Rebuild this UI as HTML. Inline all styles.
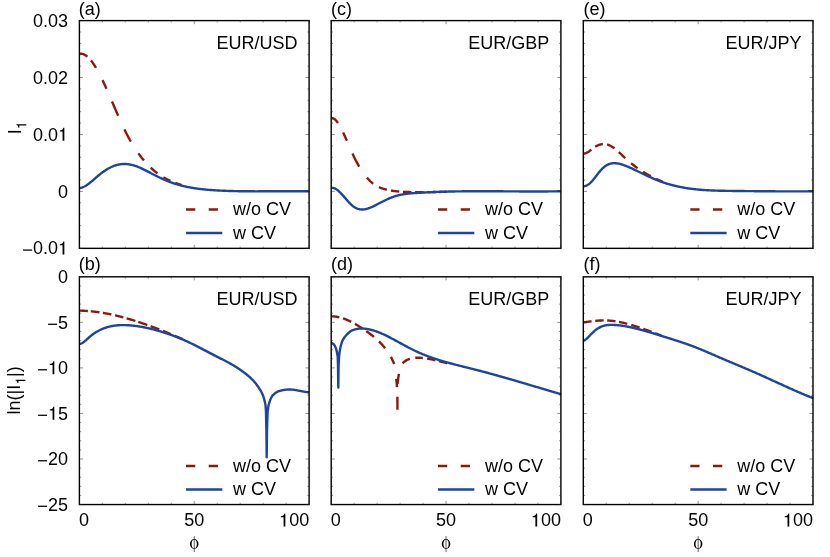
<!DOCTYPE html>
<html><head><meta charset="utf-8"><title>chart</title>
<style>
html,body{margin:0;padding:0;background:#fff;}
svg{display:block;will-change:transform;}
text{font-family:"Liberation Sans",sans-serif;fill:#000;}
</style></head>
<body>
<svg width="830" height="557" viewBox="0 0 830 557">
<rect width="830" height="557" fill="#fff"/>
<g id="curves">
<polyline points="79.40,53.70 79.80,53.66 80.20,53.63 80.60,53.63 81.00,53.65 81.40,53.69 81.80,53.75 82.20,53.84 82.60,53.94 83.00,54.06 83.40,54.21 83.80,54.37 84.20,54.56 84.60,54.76 85.00,54.99 85.40,55.23 85.80,55.49 86.20,55.77 86.60,56.07 87.00,56.39 87.40,56.72" fill="none" stroke="#8c1a0c" stroke-width="2.4" stroke-linecap="butt" stroke-linejoin="round"/>
<polyline points="90.95,60.44 91.37,60.96 91.79,61.50 92.21,62.06 92.63,62.64 93.05,63.23 93.47,63.84 93.90,64.46 94.32,65.10 94.74,65.75 95.16,66.42 95.58,67.10 96.00,67.80" fill="none" stroke="#8c1a0c" stroke-width="2.4" stroke-linecap="butt" stroke-linejoin="round"/>
<polyline points="102.50,80.11 102.90,80.95 103.30,81.80 103.70,82.65 104.10,83.51 104.50,84.37 104.90,85.25 105.30,86.12 105.70,87.01 106.10,87.90 106.50,88.79" fill="none" stroke="#8c1a0c" stroke-width="2.4" stroke-linecap="butt" stroke-linejoin="round"/>
<polyline points="112.00,101.46 112.41,102.42 112.82,103.38 113.23,104.34 113.64,105.30 114.05,106.26 114.46,107.22 114.87,108.18 115.28,109.14 115.69,110.09 116.10,111.05 116.51,112.00 116.92,112.95 117.33,113.89 117.74,114.84 118.15,115.77" fill="none" stroke="#8c1a0c" stroke-width="2.4" stroke-linecap="butt" stroke-linejoin="round"/>
<polyline points="124.40,129.41 124.81,130.24 125.21,131.06 125.62,131.87 126.03,132.68 126.43,133.47 126.84,134.26 127.24,135.04 127.65,135.81 128.06,136.57 128.46,137.32 128.87,138.07 129.28,138.81 129.68,139.54 130.09,140.26 130.49,140.97 130.90,141.68" fill="none" stroke="#8c1a0c" stroke-width="2.4" stroke-linecap="butt" stroke-linejoin="round"/>
<polyline points="138.40,153.37 138.83,153.97 139.26,154.56 139.69,155.14 140.12,155.72 140.55,156.28 140.98,156.84 141.42,157.40 141.85,157.94 142.28,158.48 142.71,159.01 143.14,159.54 143.57,160.05 144.00,160.56" fill="none" stroke="#8c1a0c" stroke-width="2.4" stroke-linecap="butt" stroke-linejoin="round"/>
<polyline points="150.80,167.74 151.22,168.13 151.64,168.51 152.06,168.89 152.48,169.26 152.89,169.63 153.31,170.00 153.73,170.35 154.15,170.71 154.57,171.05 154.99,171.40 155.41,171.73 155.82,172.07 156.24,172.39 156.66,172.71 157.08,173.03 157.50,173.34" fill="none" stroke="#8c1a0c" stroke-width="2.4" stroke-linecap="butt" stroke-linejoin="round"/>
<polyline points="163.40,177.26 163.81,177.51 164.22,177.74 164.64,177.98 165.05,178.21 165.46,178.44 165.87,178.66 166.28,178.88 166.69,179.10 167.11,179.31 167.52,179.52 167.93,179.72 168.34,179.93 168.75,180.13 169.16,180.32 169.58,180.52 169.99,180.71 170.40,180.89" fill="none" stroke="#8c1a0c" stroke-width="2.4" stroke-linecap="butt" stroke-linejoin="round"/>
<polyline points="175.30,182.91 175.73,183.06 176.15,183.22 176.58,183.37 177.01,183.52 177.43,183.67 177.86,183.82 178.29,183.96 178.71,184.10 179.14,184.24 179.57,184.38 179.99,184.52 180.42,184.65 180.85,184.78 181.27,184.91 181.70,185.04" fill="none" stroke="#8c1a0c" stroke-width="2.4" stroke-linecap="butt" stroke-linejoin="round"/>
<polyline points="79.40,188.09 79.90,188.04 80.40,187.96 80.90,187.86 81.40,187.73 81.90,187.58 82.40,187.41 82.90,187.22 83.40,187.00 83.90,186.77 84.40,186.52 84.90,186.25 85.41,185.97 85.91,185.67 86.41,185.35 86.91,185.02 87.41,184.68 87.91,184.33 88.41,183.96 88.91,183.58 89.41,183.20 89.91,182.80 90.41,182.40 90.91,181.99 91.41,181.57 91.91,181.15 92.41,180.72 92.91,180.29 93.41,179.86 93.91,179.42 94.41,178.98 94.91,178.54 95.41,178.11 95.91,177.67 96.41,177.24 96.92,176.81 97.42,176.38 97.92,175.96 98.42,175.54 98.92,175.13 99.42,174.73 99.92,174.33 100.42,173.93 100.92,173.54 101.42,173.16 101.92,172.79 102.42,172.42 102.92,172.05 103.42,171.70 103.92,171.35 104.42,171.00 104.92,170.67 105.42,170.34 105.92,170.01 106.42,169.70 106.92,169.39 107.42,169.09 107.92,168.80 108.43,168.51 108.93,168.23 109.43,167.97 109.93,167.70 110.43,167.45 110.93,167.21 111.43,166.97 111.93,166.74 112.43,166.52 112.93,166.31 113.43,166.11 113.93,165.92 114.43,165.73 114.93,165.56 115.43,165.39 115.93,165.24 116.43,165.09 116.93,164.95 117.43,164.83 117.93,164.71 118.43,164.60 118.93,164.50 119.43,164.41 119.94,164.33 120.44,164.26 120.94,164.19 121.44,164.14 121.94,164.09 122.44,164.06 122.94,164.03 123.44,164.01 123.94,164.00 124.44,163.99 124.94,164.00 125.44,164.01 125.94,164.04 126.44,164.07 126.94,164.11 127.44,164.15 127.94,164.21 128.44,164.27 128.94,164.34 129.44,164.42 129.94,164.51 130.44,164.60 130.94,164.70 131.45,164.81 131.95,164.93 132.45,165.05 132.95,165.18 133.45,165.32 133.95,165.47 134.45,165.62 134.95,165.78 135.45,165.95 135.95,166.12 136.45,166.30 136.95,166.49 137.45,166.68 137.95,166.88 138.45,167.08 138.95,167.28 139.45,167.50 139.95,167.71 140.45,167.93 140.95,168.16 141.45,168.39 141.95,168.62 142.45,168.86 142.96,169.10 143.46,169.34 143.96,169.59 144.46,169.83 144.96,170.08 145.46,170.34 145.96,170.59 146.46,170.85 146.96,171.11 147.46,171.37 147.96,171.63 148.46,171.89 148.96,172.15 149.46,172.41 149.96,172.67 150.46,172.93 150.96,173.20 151.46,173.46 151.96,173.72 152.46,173.98 152.96,174.23 153.46,174.49 153.96,174.75 154.47,175.00 154.97,175.26 155.47,175.51 155.97,175.76 156.47,176.01 156.97,176.26 157.47,176.51 157.97,176.75 158.47,177.00 158.97,177.24 159.47,177.48 159.97,177.72 160.47,177.95 160.97,178.19 161.47,178.42 161.97,178.65 162.47,178.88 162.97,179.11 163.47,179.33 163.97,179.55 164.47,179.77 164.97,179.99 165.47,180.20 165.98,180.42 166.48,180.63 166.98,180.83 167.48,181.04 167.98,181.24 168.48,181.44 168.98,181.63 169.48,181.82 169.98,182.01 170.48,182.20 170.98,182.38 171.48,182.56 171.98,182.74 172.48,182.92 172.98,183.09 173.48,183.26 173.98,183.42 174.48,183.58 174.98,183.74 175.48,183.90 175.98,184.06 176.48,184.21 176.98,184.36 177.49,184.51 177.99,184.65 178.49,184.79 178.99,184.93 179.49,185.07 179.99,185.20 180.49,185.34 180.99,185.47 181.49,185.59 181.99,185.72 182.49,185.84 182.99,185.96 183.49,186.08 183.99,186.20 184.49,186.31 184.99,186.42 185.49,186.53 185.99,186.64 186.49,186.75 186.99,186.85 187.49,186.96 187.99,187.06 188.49,187.16 189.00,187.25 189.50,187.35 190.00,187.44 190.50,187.53 191.00,187.62 191.50,187.71 192.00,187.80 192.50,187.88 193.00,187.96 193.50,188.05 194.00,188.12 194.50,188.20 195.00,188.28 195.50,188.35 196.00,188.43 196.50,188.50 197.00,188.57 197.50,188.64 198.00,188.71 198.50,188.77 199.00,188.84 199.50,188.90 200.01,188.96 200.51,189.02 201.01,189.08 201.51,189.14 202.01,189.20 202.51,189.25 203.01,189.31 203.51,189.36 204.01,189.41 204.51,189.47 205.01,189.51 205.51,189.56 206.01,189.61 206.51,189.66 207.01,189.70 207.51,189.75 208.01,189.79 208.51,189.83 209.01,189.87 209.51,189.91 210.01,189.95 210.51,189.99 211.01,190.03 211.52,190.07 212.02,190.10 212.52,190.14 213.02,190.17 213.52,190.20 214.02,190.24 214.52,190.27 215.02,190.30 215.52,190.33 216.02,190.36 216.52,190.39 217.02,190.42 217.52,190.45 218.02,190.47 218.52,190.50 219.02,190.53 219.52,190.55 220.02,190.58 220.52,190.60 221.02,190.63 221.52,190.65 222.02,190.67 222.52,190.70 223.03,190.72 223.53,190.74 224.03,190.76 224.53,190.78 225.03,190.80 225.53,190.82 226.03,190.84 226.53,190.86 227.03,190.88 227.53,190.90 228.03,190.91 228.53,190.93 229.03,190.95 229.53,190.96 230.03,190.98 230.53,190.99 231.03,191.01 231.53,191.02 232.03,191.04 232.53,191.05 233.03,191.06 233.53,191.08 234.03,191.09 234.54,191.10 235.04,191.11 235.54,191.12 236.04,191.14 236.54,191.15 237.04,191.16 237.54,191.17 238.04,191.18 238.54,191.18 239.04,191.19 239.54,191.20 240.04,191.21 240.54,191.22 241.04,191.23 241.54,191.23 242.04,191.24 242.54,191.25 243.04,191.25 243.54,191.26 244.04,191.26 244.54,191.27 245.04,191.27 245.54,191.28 246.05,191.28 246.55,191.29 247.05,191.29 247.55,191.30 248.05,191.30 248.55,191.30 249.05,191.31 249.55,191.31 250.05,191.31 250.55,191.31 251.05,191.32 251.55,191.32 252.05,191.32 252.55,191.32 253.05,191.32 253.55,191.32 254.05,191.32 254.55,191.32 255.05,191.33 255.55,191.33 256.05,191.33 256.55,191.33 257.05,191.33 257.56,191.33 258.06,191.32 258.56,191.32 259.06,191.32 259.56,191.32 260.06,191.32 260.56,191.32 261.06,191.32 261.56,191.32 262.06,191.32 262.56,191.31 263.06,191.31 263.56,191.31 264.06,191.31 264.56,191.31 265.06,191.30 265.56,191.30 266.06,191.30 266.56,191.30 267.06,191.29 267.56,191.29 268.06,191.29 268.56,191.29 269.07,191.28 269.57,191.28 270.07,191.28 270.57,191.28 271.07,191.27 271.57,191.27 272.07,191.27 272.57,191.26 273.07,191.26 273.57,191.26 274.07,191.26 274.57,191.25 275.07,191.25 275.57,191.25 276.07,191.24 276.57,191.24 277.07,191.24 277.57,191.24 278.07,191.23 278.57,191.23 279.07,191.23 279.57,191.23 280.07,191.22 280.58,191.22 281.08,191.22 281.58,191.22 282.08,191.21 282.58,191.21 283.08,191.21 283.58,191.21 284.08,191.21 284.58,191.20 285.08,191.20 285.58,191.20 286.08,191.20 286.58,191.20 287.08,191.20 287.58,191.20 288.08,191.20 288.58,191.19 289.08,191.19 289.58,191.19 290.08,191.19 290.58,191.19 291.08,191.19 291.58,191.19 292.09,191.19 292.59,191.19 293.09,191.20 293.59,191.20 294.09,191.20 294.59,191.20 295.09,191.20 295.59,191.20 296.09,191.20 296.59,191.21 297.09,191.21 297.59,191.21 298.09,191.21 298.59,191.22 299.09,191.22 299.59,191.22 300.09,191.23 300.59,191.23 301.09,191.24 301.59,191.24 302.09,191.25 302.59,191.25 303.09,191.26 303.60,191.26 304.10,191.27 304.60,191.28 305.10,191.28 305.60,191.29 306.10,191.30 306.60,191.30 307.10,191.31 307.60,191.32 308.10,191.33 308.60,191.34 309.10,191.35" fill="none" stroke="#1e459d" stroke-width="2.4" stroke-linecap="butt" stroke-linejoin="round"/>
<polyline points="79.40,310.62 79.80,310.62 80.21,310.63 80.61,310.64 81.02,310.65 81.42,310.67 81.83,310.68 82.23,310.70 82.64,310.71 83.04,310.73 83.45,310.75 83.85,310.77 84.26,310.79 84.66,310.81 85.07,310.83 85.47,310.86 85.88,310.88 86.28,310.91 86.69,310.94 87.09,310.96 87.50,310.99 87.90,311.02" fill="none" stroke="#8c1a0c" stroke-width="2.4" stroke-linecap="butt" stroke-linejoin="round"/>
<polyline points="90.80,311.28 91.21,311.32 91.63,311.36 92.04,311.40 92.46,311.44 92.87,311.49 93.29,311.53 93.70,311.58 94.11,311.63 94.53,311.68 94.94,311.73 95.36,311.78 95.77,311.83 96.19,311.88 96.60,311.94 97.01,311.99 97.43,312.05 97.84,312.11 98.26,312.16 98.67,312.22 99.09,312.28 99.50,312.34" fill="none" stroke="#8c1a0c" stroke-width="2.4" stroke-linecap="butt" stroke-linejoin="round"/>
<polyline points="102.90,312.89 103.30,312.95 103.71,313.02 104.11,313.09 104.52,313.17 104.92,313.24 105.33,313.31 105.73,313.39 106.14,313.46 106.54,313.54 106.95,313.61 107.35,313.69 107.76,313.77 108.16,313.85 108.57,313.93 108.97,314.01 109.38,314.09 109.78,314.18 110.19,314.26 110.59,314.34 111.00,314.43 111.40,314.52" fill="none" stroke="#8c1a0c" stroke-width="2.4" stroke-linecap="butt" stroke-linejoin="round"/>
<polyline points="115.05,315.33 115.47,315.43 115.88,315.53 116.30,315.63 116.72,315.73 117.14,315.83 117.56,315.93 117.97,316.03 118.39,316.13 118.81,316.24 119.22,316.34 119.64,316.45 120.06,316.55 120.48,316.66 120.90,316.77 121.31,316.88 121.73,316.99 122.15,317.10 122.56,317.21 122.98,317.32 123.40,317.43" fill="none" stroke="#8c1a0c" stroke-width="2.4" stroke-linecap="butt" stroke-linejoin="round"/>
<polyline points="126.60,318.32 127.00,318.43 127.40,318.55 127.80,318.66 128.20,318.78 128.60,318.90 129.00,319.01 129.40,319.13 129.80,319.25 130.20,319.37 130.60,319.49 131.00,319.61 131.40,319.73 131.80,319.85 132.20,319.97 132.60,320.09 133.00,320.22 133.40,320.34 133.80,320.47 134.20,320.59 134.60,320.72 135.00,320.84 135.40,320.97" fill="none" stroke="#8c1a0c" stroke-width="2.4" stroke-linecap="butt" stroke-linejoin="round"/>
<polyline points="138.30,321.90 138.71,322.04 139.12,322.17 139.53,322.31 139.95,322.45 140.36,322.59 140.77,322.72 141.18,322.86 141.59,323.00 142.00,323.14 142.41,323.28 142.82,323.42 143.24,323.56 143.65,323.70 144.06,323.85 144.47,323.99 144.88,324.13 145.29,324.28 145.70,324.42 146.12,324.57 146.53,324.71 146.94,324.86 147.35,325.00" fill="none" stroke="#8c1a0c" stroke-width="2.4" stroke-linecap="butt" stroke-linejoin="round"/>
<polyline points="150.60,326.18 151.01,326.33 151.43,326.49 151.84,326.64 152.26,326.79 152.67,326.95 153.09,327.10 153.50,327.26 153.91,327.41 154.33,327.57 154.74,327.72 155.16,327.88 155.57,328.04 155.99,328.20 156.40,328.35 156.81,328.51 157.23,328.67 157.64,328.83 158.06,328.99 158.47,329.15 158.89,329.31 159.30,329.48" fill="none" stroke="#8c1a0c" stroke-width="2.4" stroke-linecap="butt" stroke-linejoin="round"/>
<polyline points="162.90,330.90 163.32,331.06 163.74,331.23 164.16,331.40 164.57,331.57 164.99,331.73 165.41,331.90 165.83,332.07 166.25,332.24 166.67,332.41 167.08,332.58 167.50,332.75 167.92,332.93 168.34,333.10 168.76,333.27 169.18,333.44 169.59,333.61 170.01,333.79 170.43,333.96 170.85,334.13" fill="none" stroke="#8c1a0c" stroke-width="2.4" stroke-linecap="butt" stroke-linejoin="round"/>
<polyline points="174.80,335.79 175.21,335.96 175.61,336.14 176.02,336.31 176.42,336.48 176.83,336.65 177.23,336.83 177.64,337.00 178.04,337.17 178.45,337.35 178.85,337.52 179.26,337.70 179.66,337.87 180.07,338.04 180.47,338.22 180.88,338.40 181.28,338.57 181.69,338.75 182.09,338.92 182.50,339.10" fill="none" stroke="#8c1a0c" stroke-width="2.4" stroke-linecap="butt" stroke-linejoin="round"/>
<polyline points="79.40,344.01 79.88,343.94 80.36,343.83 80.84,343.68 81.32,343.49 81.80,343.26 82.28,343.00 82.77,342.71 83.25,342.39 83.73,342.05 84.21,341.69 84.69,341.30 85.17,340.90 85.65,340.49 86.13,340.07 86.61,339.63 87.09,339.19 87.57,338.75 88.05,338.31 88.53,337.87 89.01,337.44 89.50,337.01 89.98,336.59 90.46,336.19 90.94,335.79 91.42,335.41 91.90,335.03 92.38,334.67 92.86,334.31 93.34,333.96 93.82,333.63 94.30,333.30 94.78,332.98 95.26,332.67 95.75,332.37 96.23,332.07 96.71,331.79 97.19,331.51 97.67,331.24 98.15,330.97 98.63,330.72 99.11,330.47 99.59,330.23 100.07,329.99 100.55,329.76 101.03,329.54 101.51,329.32 101.99,329.11 102.48,328.91 102.96,328.71 103.44,328.52 103.92,328.34 104.40,328.16 104.88,327.99 105.36,327.82 105.84,327.66 106.32,327.50 106.80,327.35 107.28,327.20 107.76,327.07 108.24,326.93 108.73,326.80 109.21,326.68 109.69,326.56 110.17,326.45 110.65,326.34 111.13,326.24 111.61,326.14 112.09,326.05 112.57,325.96 113.05,325.87 113.53,325.79 114.01,325.72 114.49,325.65 114.97,325.58 115.46,325.52 115.94,325.47 116.42,325.41 116.90,325.36 117.38,325.32 117.86,325.28 118.34,325.24 118.82,325.21 119.30,325.18 119.78,325.16 120.26,325.13 120.74,325.12 121.22,325.10 121.71,325.09 122.19,325.08 122.67,325.08 123.15,325.08 123.63,325.08 124.11,325.09 124.59,325.09 125.07,325.11 125.55,325.12 126.03,325.14 126.51,325.16 126.99,325.18 127.47,325.21 127.95,325.23 128.44,325.26 128.92,325.30 129.40,325.33 129.88,325.37 130.36,325.41 130.84,325.45 131.32,325.50 131.80,325.54 132.28,325.59 132.76,325.64 133.24,325.69 133.72,325.75 134.20,325.80 134.68,325.86 135.17,325.92 135.65,325.98 136.13,326.04 136.61,326.11 137.09,326.17 137.57,326.24 138.05,326.31 138.53,326.39 139.01,326.46 139.49,326.53 139.97,326.61 140.45,326.69 140.93,326.77 141.42,326.86 141.90,326.94 142.38,327.03 142.86,327.11 143.34,327.20 143.82,327.29 144.30,327.39 144.78,327.48 145.26,327.58 145.74,327.68 146.22,327.78 146.70,327.88 147.18,327.98 147.66,328.08 148.15,328.19 148.63,328.30 149.11,328.41 149.59,328.52 150.07,328.63 150.55,328.74 151.03,328.86 151.51,328.98 151.99,329.09 152.47,329.21 152.95,329.34 153.43,329.46 153.91,329.58 154.40,329.71 154.88,329.84 155.36,329.96 155.84,330.09 156.32,330.23 156.80,330.36 157.28,330.49 157.76,330.63 158.24,330.77 158.72,330.90 159.20,331.04 159.68,331.19 160.16,331.33 160.64,331.47 161.13,331.62 161.61,331.76 162.09,331.91 162.57,332.06 163.05,332.21 163.53,332.36 164.01,332.52 164.49,332.67 164.97,332.83 165.45,332.98 165.93,333.14 166.41,333.30 166.89,333.46 167.38,333.62 167.86,333.78 168.34,333.95 168.82,334.11 169.30,334.28 169.78,334.45 170.26,334.62 170.74,334.79 171.22,334.96 171.70,335.13 172.18,335.31 172.66,335.48 173.14,335.66 173.62,335.84 174.11,336.02 174.59,336.20 175.07,336.38 175.55,336.57 176.03,336.75 176.51,336.94 176.99,337.13 177.47,337.32 177.95,337.51 178.43,337.70 178.91,337.90 179.39,338.09 179.87,338.29 180.36,338.49 180.84,338.69 181.32,338.89 181.80,339.10 182.28,339.30 182.76,339.51 183.24,339.72 183.72,339.93 184.20,340.14 184.68,340.35 185.16,340.57 185.64,340.78 186.12,341.00 186.60,341.22 187.09,341.44 187.57,341.66 188.05,341.88 188.53,342.11 189.01,342.33 189.49,342.56 189.97,342.79 190.45,343.02 190.93,343.25 191.41,343.48 191.89,343.71 192.37,343.94 192.85,344.18 193.34,344.42 193.82,344.65 194.30,344.89 194.78,345.13 195.26,345.37 195.74,345.61 196.22,345.85 196.70,346.10 197.18,346.34 197.66,346.59 198.14,346.83 198.62,347.08 199.10,347.33 199.58,347.58 200.07,347.83 200.55,348.08 201.03,348.33 201.51,348.58 201.99,348.83 202.47,349.08 202.95,349.33 203.43,349.58 203.91,349.84 204.39,350.09 204.87,350.34 205.35,350.60 205.83,350.85 206.32,351.11 206.80,351.36 207.28,351.61 207.76,351.87 208.24,352.12 208.72,352.38 209.20,352.63 209.68,352.88 210.16,353.14 210.64,353.39 211.12,353.64 211.60,353.89 212.08,354.15 212.56,354.40 213.05,354.65 213.53,354.90 214.01,355.15 214.49,355.40 214.97,355.65 215.45,355.89 215.93,356.14 216.41,356.39 216.89,356.63 217.37,356.88 217.85,357.12 218.33,357.36 218.81,357.61 219.29,357.85 219.78,358.09 220.26,358.33 220.74,358.57 221.22,358.81 221.70,359.05 222.18,359.30 222.66,359.54 223.14,359.78 223.62,360.03 224.10,360.27 224.58,360.52 225.06,360.76 225.54,361.01 226.03,361.26 226.51,361.51 226.99,361.77 227.47,362.02 227.95,362.28 228.43,362.54 228.91,362.80 229.39,363.07 229.87,363.34 230.35,363.61 230.83,363.88 231.31,364.15 231.79,364.43 232.27,364.71 232.76,364.99 233.24,365.28 233.72,365.57 234.20,365.86 234.68,366.15 235.16,366.45 235.64,366.75 236.12,367.05 236.60,367.36 237.08,367.67 237.56,367.98 238.04,368.30 238.52,368.61 239.01,368.94 239.49,369.26 239.97,369.59 240.45,369.92 240.93,370.26 241.41,370.59 241.89,370.94 242.37,371.28 242.85,371.63 243.33,371.98 243.81,372.34 244.29,372.70 244.77,373.06 245.25,373.43 245.74,373.80 246.22,374.18 246.70,374.56 247.18,374.95 247.66,375.34 248.14,375.74 248.62,376.15 249.10,376.56 249.58,376.99 250.06,377.42 250.54,377.87 251.02,378.32 251.50,378.79 251.99,379.27 252.47,379.76 252.95,380.26 253.43,380.78 253.91,381.31 254.39,381.86 254.87,382.43 255.35,383.01 255.83,383.60 256.31,384.22 256.79,384.85 257.27,385.51 257.75,386.18 258.23,386.87 258.72,387.58 259.20,388.32 259.68,389.08 260.16,389.86 260.64,390.66 261.12,391.49 261.60,392.34 263.20,396.00 264.30,399.40 265.10,403.00 265.60,405.90 266.00,412.30 266.40,430.00 266.70,457.30 267.00,430.00 267.60,412.30 268.10,408.00 268.60,405.00 269.20,403.00 270.50,399.20 272.00,396.30 273.20,394.90 273.60,394.52 274.11,394.06 274.63,393.62 275.14,393.22 275.66,392.84 276.17,392.49 276.69,392.18 277.20,391.89 277.72,391.64 278.23,391.42 278.74,391.23 279.26,391.06 279.77,390.91 280.29,390.77 280.80,390.65 281.32,390.53 281.83,390.41 282.35,390.29 282.86,390.18 283.38,390.08 283.89,389.98 284.40,389.89 284.92,389.81 285.43,389.74 285.95,389.68 286.46,389.63 286.98,389.58 287.49,389.55 288.01,389.52 288.52,389.51 289.03,389.50 289.55,389.50 290.06,389.51 290.58,389.52 291.09,389.55 291.61,389.58 292.12,389.62 292.64,389.66 293.15,389.72 293.67,389.78 294.18,389.84 294.69,389.92 295.21,390.00 295.72,390.08 296.24,390.17 296.75,390.26 297.27,390.36 297.78,390.45 298.30,390.56 298.81,390.66 299.32,390.76 299.84,390.87 300.35,390.97 300.87,391.08 301.38,391.18 301.90,391.28 302.41,391.39 302.93,391.48 303.44,391.58 303.96,391.67 304.47,391.76 304.98,391.85 305.50,391.93 306.01,392.00 306.53,392.07 307.04,392.13 307.56,392.18 308.07,392.23 308.59,392.27 309.10,392.30" fill="none" stroke="#1e459d" stroke-width="2.4" stroke-linecap="butt" stroke-linejoin="round"/>
<polyline points="331.20,118.37 331.60,118.27 332.00,118.23 332.40,118.24 332.80,118.30 333.20,118.41 333.60,118.57 334.00,118.78 334.40,119.03 334.80,119.33 335.20,119.66 335.60,120.04 336.00,120.46 336.40,120.91 336.80,121.39 337.20,121.91 337.60,122.46 338.00,123.04" fill="none" stroke="#8c1a0c" stroke-width="2.4" stroke-linecap="butt" stroke-linejoin="round"/>
<polyline points="343.10,132.43 343.52,133.32 343.94,134.22 344.37,135.13 344.79,136.05 345.21,136.98 345.63,137.92 346.06,138.87 346.48,139.83 346.90,140.79" fill="none" stroke="#8c1a0c" stroke-width="2.4" stroke-linecap="butt" stroke-linejoin="round"/>
<polyline points="352.50,153.60 352.92,154.51 353.34,155.40 353.76,156.28 354.18,157.15 354.59,158.01 355.01,158.85 355.43,159.69 355.85,160.50 356.27,161.31 356.69,162.10 357.11,162.88 357.52,163.65 357.94,164.41 358.36,165.15 358.78,165.88 359.20,166.60" fill="none" stroke="#8c1a0c" stroke-width="2.4" stroke-linecap="butt" stroke-linejoin="round"/>
<polyline points="366.90,177.64 367.32,178.13 367.74,178.60 368.16,179.06 368.58,179.51 369.00,179.95 369.42,180.38 369.84,180.80 370.26,181.20 370.68,181.60 371.10,181.98 371.52,182.35 371.94,182.71 372.36,183.06 372.78,183.40 373.20,183.72" fill="none" stroke="#8c1a0c" stroke-width="2.4" stroke-linecap="butt" stroke-linejoin="round"/>
<polyline points="378.90,187.14 379.32,187.33 379.73,187.51 380.15,187.68 380.56,187.85 380.98,188.01 381.39,188.16 381.81,188.31 382.23,188.45 382.64,188.58 383.06,188.72 383.47,188.84 383.89,188.96 384.31,189.08 384.72,189.19 385.14,189.30 385.55,189.41 385.97,189.51 386.38,189.61 386.80,189.71" fill="none" stroke="#8c1a0c" stroke-width="2.4" stroke-linecap="butt" stroke-linejoin="round"/>
<polyline points="390.90,190.53 391.30,190.60 391.70,190.66 392.10,190.73 392.50,190.79 392.90,190.85 393.30,190.91 393.70,190.96 394.10,191.02 394.50,191.07 394.90,191.12 395.30,191.17 395.70,191.22 396.10,191.26 396.50,191.31 396.90,191.35 397.30,191.39 397.70,191.43 398.10,191.47 398.50,191.51 398.90,191.54 399.30,191.58" fill="none" stroke="#8c1a0c" stroke-width="2.4" stroke-linecap="butt" stroke-linejoin="round"/>
<polyline points="403.00,191.83 403.40,191.85 403.80,191.87 404.21,191.89 404.61,191.91 405.01,191.93 405.41,191.95 405.82,191.96 406.22,191.98 406.62,191.99 407.02,192.01 407.43,192.02 407.83,192.03 408.23,192.04 408.63,192.05 409.04,192.06 409.44,192.07 409.84,192.08 410.24,192.09 410.65,192.10 411.05,192.11 411.45,192.12" fill="none" stroke="#8c1a0c" stroke-width="2.4" stroke-linecap="butt" stroke-linejoin="round"/>
<polyline points="415.10,192.17 415.52,192.17 415.94,192.17 416.36,192.18 416.78,192.18 417.20,192.18 417.62,192.18 418.04,192.19 418.46,192.19 418.88,192.19 419.30,192.19 419.72,192.19 420.14,192.19 420.56,192.19 420.98,192.19 421.40,192.19 421.82,192.19 422.24,192.19 422.66,192.19 423.08,192.18 423.50,192.18" fill="none" stroke="#8c1a0c" stroke-width="2.4" stroke-linecap="butt" stroke-linejoin="round"/>
<polyline points="427.00,192.15 427.40,192.15 427.81,192.15 428.21,192.14 428.62,192.14 429.02,192.13 429.43,192.13 429.83,192.12 430.24,192.11 430.64,192.11 431.05,192.10 431.45,192.10 431.86,192.09 432.26,192.08 432.67,192.08 433.07,192.07 433.48,192.06 433.88,192.06 434.29,192.05 434.69,192.04 435.10,192.03 435.50,192.03" fill="none" stroke="#8c1a0c" stroke-width="2.4" stroke-linecap="butt" stroke-linejoin="round"/>
<polyline points="439.00,191.96 439.40,191.95 439.80,191.94 440.20,191.93 440.60,191.92 441.00,191.91 441.40,191.91 441.80,191.90 442.20,191.89 442.60,191.88 443.00,191.87 443.40,191.86 443.80,191.85 444.20,191.84 444.60,191.83 445.00,191.82 445.40,191.82 445.80,191.81 446.20,191.80 446.60,191.79 447.00,191.78" fill="none" stroke="#8c1a0c" stroke-width="2.4" stroke-linecap="butt" stroke-linejoin="round"/>
<polyline points="331.20,187.87 331.70,187.83 332.20,187.83 332.70,187.87 333.20,187.95 333.70,188.07 334.20,188.23 334.70,188.43 335.21,188.66 335.71,188.93 336.21,189.22 336.71,189.55 337.21,189.90 337.71,190.28 338.21,190.69 338.71,191.12 339.21,191.57 339.71,192.04 340.21,192.52 340.71,193.03 341.21,193.55 341.71,194.08 342.21,194.63 342.72,195.18 343.22,195.75 343.72,196.32 344.22,196.90 344.72,197.48 345.22,198.06 345.72,198.64 346.22,199.22 346.72,199.80 347.22,200.37 347.72,200.94 348.22,201.50 348.72,202.05 349.22,202.59 349.72,203.12 350.22,203.63 350.73,204.13 351.23,204.61 351.73,205.07 352.23,205.51 352.73,205.93 353.23,206.32 353.73,206.69 354.23,207.03 354.73,207.34 355.23,207.64 355.73,207.91 356.23,208.15 356.73,208.37 357.23,208.57 357.73,208.75 358.24,208.91 358.74,209.05 359.24,209.16 359.74,209.26 360.24,209.34 360.74,209.40 361.24,209.44 361.74,209.46 362.24,209.46 362.74,209.45 363.24,209.43 363.74,209.39 364.24,209.33 364.74,209.26 365.24,209.17 365.75,209.07 366.25,208.96 366.75,208.84 367.25,208.70 367.75,208.55 368.25,208.40 368.75,208.23 369.25,208.05 369.75,207.86 370.25,207.67 370.75,207.46 371.25,207.25 371.75,207.03 372.25,206.81 372.75,206.58 373.25,206.34 373.76,206.10 374.26,205.85 374.76,205.60 375.26,205.35 375.76,205.09 376.26,204.83 376.76,204.57 377.26,204.31 377.76,204.05 378.26,203.78 378.76,203.52 379.26,203.26 379.76,203.00 380.26,202.74 380.76,202.48 381.27,202.22 381.77,201.96 382.27,201.71 382.77,201.45 383.27,201.20 383.77,200.95 384.27,200.71 384.77,200.46 385.27,200.22 385.77,199.98 386.27,199.74 386.77,199.51 387.27,199.28 387.77,199.05 388.27,198.83 388.78,198.61 389.28,198.39 389.78,198.18 390.28,197.98 390.78,197.77 391.28,197.57 391.78,197.38 392.28,197.19 392.78,197.00 393.28,196.82 393.78,196.65 394.28,196.48 394.78,196.32 395.28,196.16 395.78,196.01 396.28,195.86 396.79,195.72 397.29,195.58 397.79,195.45 398.29,195.32 398.79,195.20 399.29,195.08 399.79,194.97 400.29,194.86 400.79,194.76 401.29,194.66 401.79,194.56 402.29,194.47 402.79,194.38 403.29,194.30 403.79,194.21 404.30,194.14 404.80,194.06 405.30,193.99 405.80,193.92 406.30,193.85 406.80,193.79 407.30,193.73 407.80,193.67 408.30,193.62 408.80,193.56 409.30,193.51 409.80,193.46 410.30,193.42 410.80,193.37 411.30,193.33 411.81,193.29 412.31,193.25 412.81,193.21 413.31,193.17 413.81,193.13 414.31,193.10 414.81,193.06 415.31,193.03 415.81,192.99 416.31,192.96 416.81,192.93 417.31,192.90 417.81,192.86 418.31,192.83 418.81,192.80 419.32,192.77 419.82,192.74 420.32,192.71 420.82,192.68 421.32,192.65 421.82,192.62 422.32,192.59 422.82,192.56 423.32,192.54 423.82,192.51 424.32,192.48 424.82,192.46 425.32,192.43 425.82,192.40 426.32,192.38 426.82,192.35 427.33,192.33 427.83,192.30 428.33,192.28 428.83,192.25 429.33,192.23 429.83,192.21 430.33,192.18 430.83,192.16 431.33,192.14 431.83,192.12 432.33,192.10 432.83,192.08 433.33,192.05 433.83,192.03 434.33,192.01 434.84,191.99 435.34,191.97 435.84,191.95 436.34,191.94 436.84,191.92 437.34,191.90 437.84,191.88 438.34,191.86 438.84,191.85 439.34,191.83 439.84,191.81 440.34,191.79 440.84,191.78 441.34,191.76 441.84,191.75 442.35,191.73 442.85,191.72 443.35,191.70 443.85,191.69 444.35,191.67 444.85,191.66 445.35,191.64 445.85,191.63 446.35,191.62 446.85,191.61 447.35,191.59 447.85,191.58 448.35,191.57 448.85,191.56 449.35,191.54 449.85,191.53 450.36,191.52 450.86,191.51 451.36,191.50 451.86,191.49 452.36,191.48 452.86,191.47 453.36,191.46 453.86,191.45 454.36,191.44 454.86,191.43 455.36,191.42 455.86,191.42 456.36,191.41 456.86,191.40 457.36,191.39 457.87,191.38 458.37,191.38 458.87,191.37 459.37,191.36 459.87,191.36 460.37,191.35 460.87,191.34 461.37,191.34 461.87,191.33 462.37,191.32 462.87,191.32 463.37,191.31 463.87,191.31 464.37,191.30 464.87,191.30 465.38,191.29 465.88,191.29 466.38,191.29 466.88,191.28 467.38,191.28 467.88,191.27 468.38,191.27 468.88,191.27 469.38,191.26 469.88,191.26 470.38,191.26 470.88,191.26 471.38,191.25 471.88,191.25 472.38,191.25 472.88,191.25 473.39,191.24 473.89,191.24 474.39,191.24 474.89,191.24 475.39,191.24 475.89,191.24 476.39,191.24 476.89,191.24 477.39,191.23 477.89,191.23 478.39,191.23 478.89,191.23 479.39,191.23 479.89,191.23 480.39,191.23 480.90,191.23 481.40,191.23 481.90,191.23 482.40,191.23 482.90,191.23 483.40,191.24 483.90,191.24 484.40,191.24 484.90,191.24 485.40,191.24 485.90,191.24 486.40,191.24 486.90,191.24 487.40,191.24 487.90,191.25 488.41,191.25 488.91,191.25 489.41,191.25 489.91,191.25 490.41,191.25 490.91,191.26 491.41,191.26 491.91,191.26 492.41,191.26 492.91,191.27 493.41,191.27 493.91,191.27 494.41,191.27 494.91,191.28 495.41,191.28 495.92,191.28 496.42,191.28 496.92,191.29 497.42,191.29 497.92,191.29 498.42,191.29 498.92,191.30 499.42,191.30 499.92,191.30 500.42,191.31 500.92,191.31 501.42,191.31 501.92,191.32 502.42,191.32 502.92,191.32 503.42,191.33 503.93,191.33 504.43,191.33 504.93,191.34 505.43,191.34 505.93,191.34 506.43,191.35 506.93,191.35 507.43,191.35 507.93,191.36 508.43,191.36 508.93,191.36 509.43,191.37 509.93,191.37 510.43,191.37 510.93,191.37 511.44,191.38 511.94,191.38 512.44,191.38 512.94,191.39 513.44,191.39 513.94,191.39 514.44,191.40 514.94,191.40 515.44,191.40 515.94,191.41 516.44,191.41 516.94,191.41 517.44,191.41 517.94,191.42 518.44,191.42 518.95,191.42 519.45,191.43 519.95,191.43 520.45,191.43 520.95,191.43 521.45,191.44 521.95,191.44 522.45,191.44 522.95,191.44 523.45,191.45 523.95,191.45 524.45,191.45 524.95,191.45 525.45,191.45 525.95,191.46 526.45,191.46 526.96,191.46 527.46,191.46 527.96,191.46 528.46,191.46 528.96,191.47 529.46,191.47 529.96,191.47 530.46,191.47 530.96,191.47 531.46,191.47 531.96,191.47 532.46,191.47 532.96,191.47 533.46,191.47 533.96,191.47 534.47,191.47 534.97,191.47 535.47,191.47 535.97,191.47 536.47,191.47 536.97,191.47 537.47,191.47 537.97,191.47 538.47,191.47 538.97,191.47 539.47,191.47 539.97,191.47 540.47,191.47 540.97,191.47 541.47,191.46 541.98,191.46 542.48,191.46 542.98,191.46 543.48,191.46 543.98,191.45 544.48,191.45 544.98,191.45 545.48,191.45 545.98,191.44 546.48,191.44 546.98,191.44 547.48,191.43 547.98,191.43 548.48,191.42 548.98,191.42 549.48,191.42 549.99,191.41 550.49,191.41 550.99,191.40 551.49,191.40 551.99,191.39 552.49,191.39 552.99,191.38 553.49,191.38 553.99,191.37 554.49,191.36 554.99,191.36 555.49,191.35 555.99,191.34 556.49,191.34 556.99,191.33 557.50,191.32 558.00,191.32 558.50,191.31 559.00,191.30 559.50,191.29 560.00,191.28 560.50,191.27 561.00,191.27" fill="none" stroke="#1e459d" stroke-width="2.4" stroke-linecap="butt" stroke-linejoin="round"/>
<polyline points="331.20,316.35 331.61,316.35 332.01,316.35 332.41,316.36 332.82,316.38 333.23,316.40 333.63,316.42 334.03,316.45 334.44,316.49 334.85,316.53 335.25,316.57 335.65,316.63 336.06,316.68 336.47,316.74 336.87,316.81 337.27,316.88 337.68,316.95 338.09,317.03 338.49,317.12 338.89,317.21 339.30,317.30" fill="none" stroke="#8c1a0c" stroke-width="2.4" stroke-linecap="butt" stroke-linejoin="round"/>
<polyline points="343.10,318.39 343.50,318.53 343.91,318.67 344.31,318.82 344.72,318.97 345.12,319.12 345.53,319.28 345.94,319.44 346.34,319.60 346.75,319.77 347.15,319.94 347.56,320.12 347.96,320.30 348.37,320.48 348.77,320.67 349.18,320.86 349.58,321.05 349.99,321.24 350.39,321.44 350.80,321.64 351.20,321.85" fill="none" stroke="#8c1a0c" stroke-width="2.4" stroke-linecap="butt" stroke-linejoin="round"/>
<polyline points="354.90,323.85 355.30,324.08 355.70,324.31 356.10,324.55 356.50,324.78 356.90,325.02 357.30,325.27 357.70,325.51 358.10,325.75 358.50,326.00 358.90,326.25 359.30,326.50 359.70,326.76 360.10,327.01 360.50,327.27 360.90,327.53 361.30,327.79 361.70,328.05 362.10,328.32 362.50,328.58" fill="none" stroke="#8c1a0c" stroke-width="2.4" stroke-linecap="butt" stroke-linejoin="round"/>
<polyline points="366.25,331.14 366.66,331.43 367.07,331.72 367.47,332.00 367.88,332.29 368.29,332.58 368.70,332.88 369.11,333.17 369.51,333.47 369.92,333.77 370.33,334.07 370.74,334.38 371.14,334.68 371.55,334.99 371.96,335.31 372.37,335.63 372.78,335.95 373.18,336.27 373.59,336.60 374.00,336.94" fill="none" stroke="#8c1a0c" stroke-width="2.4" stroke-linecap="butt" stroke-linejoin="round"/>
<polyline points="379.00,341.41 379.41,341.82 379.81,342.22 380.22,342.64 380.63,343.06 381.03,343.49 381.44,343.92 381.85,344.36 382.25,344.81 382.66,345.27 383.07,345.74 383.47,346.21 383.88,346.69 384.29,347.18 384.69,347.67 385.10,348.18" fill="none" stroke="#8c1a0c" stroke-width="2.4" stroke-linecap="butt" stroke-linejoin="round"/>
<polyline points="390.90,356.92 391.31,357.70 391.72,358.51 392.14,359.35 392.55,360.22 392.96,361.12 393.38,362.06 393.79,363.03 394.20,364.03" fill="none" stroke="#8c1a0c" stroke-width="2.4" stroke-linecap="butt" stroke-linejoin="round"/>
<polyline points="396.10,378.90 396.70,383.00 397.00,387.10" fill="none" stroke="#8c1a0c" stroke-width="2.4" stroke-linecap="butt" stroke-linejoin="round"/>
<polyline points="397.40,396.80 397.45,409.75" fill="none" stroke="#8c1a0c" stroke-width="2.4" stroke-linecap="butt" stroke-linejoin="round"/>
<polyline points="397.60,383.80 398.20,378.50 398.90,373.90" fill="none" stroke="#8c1a0c" stroke-width="2.4" stroke-linecap="butt" stroke-linejoin="round"/>
<polyline points="402.60,363.28 403.01,362.87 403.41,362.48 403.82,362.12 404.22,361.78 404.63,361.46 405.03,361.17 405.44,360.89 405.84,360.63 406.25,360.39 406.66,360.17 407.06,359.95 407.47,359.75 407.87,359.57 408.28,359.39 408.68,359.23 409.09,359.07 409.49,358.93 409.90,358.79" fill="none" stroke="#8c1a0c" stroke-width="2.4" stroke-linecap="butt" stroke-linejoin="round"/>
<polyline points="415.25,357.81 415.67,357.78 416.09,357.76 416.51,357.75 416.93,357.74 417.35,357.73 417.77,357.73 418.19,357.74 418.61,357.75 419.02,357.76 419.44,357.77 419.86,357.79 420.28,357.81 420.70,357.84 421.12,357.87 421.54,357.90 421.96,357.93 422.38,357.97 422.80,358.01" fill="none" stroke="#8c1a0c" stroke-width="2.4" stroke-linecap="butt" stroke-linejoin="round"/>
<polyline points="427.10,358.57 427.52,358.64 427.93,358.71 428.35,358.78 428.76,358.85 429.18,358.93 429.59,359.00 430.00,359.08 430.42,359.16 430.83,359.25 431.25,359.33 431.67,359.42 432.08,359.50 432.50,359.59 432.91,359.68 433.32,359.77 433.74,359.87 434.15,359.96 434.57,360.06 434.98,360.15 435.40,360.25" fill="none" stroke="#8c1a0c" stroke-width="2.4" stroke-linecap="butt" stroke-linejoin="round"/>
<polyline points="439.00,361.14 439.40,361.24 439.81,361.34 440.22,361.45 440.62,361.55 441.02,361.66 441.43,361.76 441.84,361.87 442.24,361.97 442.64,362.08 443.05,362.18 443.46,362.29 443.86,362.39 444.26,362.50 444.67,362.60 445.08,362.71 445.48,362.81 445.88,362.92 446.29,363.02 446.70,363.13 447.10,363.23" fill="none" stroke="#8c1a0c" stroke-width="2.4" stroke-linecap="butt" stroke-linejoin="round"/>
<polyline points="331.20,343.00 332.10,343.20 333.30,343.90 334.50,345.30 335.40,347.00 336.10,348.90 336.70,351.00 337.20,353.70 337.70,356.60 338.00,365.00 338.30,387.60 338.60,365.00 339.10,356.60 339.50,352.80 339.90,350.20 340.40,347.50 340.90,345.40 342.00,341.80 343.20,339.20 344.70,337.00 347.40,334.00 350.60,331.07 351.10,330.84 351.60,330.62 352.11,330.41 352.61,330.21 353.11,330.03 353.61,329.86 354.12,329.70 354.62,329.55 355.12,329.41 355.62,329.28 356.12,329.16 356.63,329.06 357.13,328.96 357.63,328.88 358.13,328.80 358.63,328.74 359.14,328.68 359.64,328.63 360.14,328.60 360.64,328.57 361.15,328.55 361.65,328.54 362.15,328.54 362.65,328.55 363.15,328.57 363.66,328.59 364.16,328.63 364.66,328.67 365.16,328.72 365.66,328.77 366.17,328.84 366.67,328.91 367.17,328.99 367.67,329.07 368.18,329.16 368.68,329.26 369.18,329.36 369.68,329.47 370.18,329.59 370.69,329.71 371.19,329.84 371.69,329.97 372.19,330.11 372.69,330.25 373.20,330.40 373.70,330.56 374.20,330.71 374.70,330.88 375.21,331.04 375.71,331.21 376.21,331.39 376.71,331.57 377.21,331.75 377.72,331.94 378.22,332.13 378.72,332.33 379.22,332.53 379.72,332.73 380.23,332.93 380.73,333.14 381.23,333.36 381.73,333.57 382.24,333.79 382.74,334.02 383.24,334.24 383.74,334.47 384.24,334.70 384.75,334.94 385.25,335.18 385.75,335.42 386.25,335.66 386.75,335.90 387.26,336.15 387.76,336.40 388.26,336.65 388.76,336.90 389.27,337.16 389.77,337.42 390.27,337.68 390.77,337.94 391.27,338.20 391.78,338.46 392.28,338.73 392.78,339.00 393.28,339.27 393.78,339.53 394.29,339.81 394.79,340.08 395.29,340.35 395.79,340.62 396.30,340.90 396.80,341.17 397.30,341.45 397.80,341.72 398.30,342.00 398.81,342.27 399.31,342.55 399.81,342.83 400.31,343.10 400.81,343.38 401.32,343.66 401.82,343.93 402.32,344.21 402.82,344.49 403.33,344.76 403.83,345.04 404.33,345.31 404.83,345.58 405.33,345.85 405.84,346.13 406.34,346.40 406.84,346.67 407.34,346.93 407.84,347.20 408.35,347.47 408.85,347.73 409.35,347.99 409.85,348.25 410.36,348.51 410.86,348.77 411.36,349.02 411.86,349.28 412.36,349.53 412.87,349.78 413.37,350.02 413.87,350.27 414.37,350.51 414.87,350.75 415.38,350.99 415.88,351.22 416.38,351.45 416.88,351.68 417.39,351.91 417.89,352.14 418.39,352.36 418.89,352.59 419.39,352.81 419.90,353.03 420.40,353.24 420.90,353.46 421.40,353.67 421.91,353.88 422.41,354.09 422.91,354.29 423.41,354.50 423.91,354.70 424.42,354.90 424.92,355.10 425.42,355.30 425.92,355.49 426.42,355.69 426.93,355.88 427.43,356.07 427.93,356.26 428.43,356.45 428.94,356.63 429.44,356.82 429.94,357.00 430.44,357.18 430.94,357.36 431.45,357.54 431.95,357.71 432.45,357.89 432.95,358.06 433.45,358.23 433.96,358.40 434.46,358.57 434.96,358.74 435.46,358.90 435.97,359.07 436.47,359.23 436.97,359.39 437.47,359.55 437.97,359.71 438.48,359.87 438.98,360.03 439.48,360.19 439.98,360.34 440.48,360.49 440.99,360.65 441.49,360.80 441.99,360.95 442.49,361.10 443.00,361.25 443.50,361.39 444.00,361.54 444.50,361.69 445.00,361.83 445.51,361.97 446.01,362.12 446.51,362.26 447.01,362.40 447.51,362.54 448.02,362.68 448.52,362.82 449.02,362.95 449.52,363.09 450.03,363.23 450.53,363.36 451.03,363.50 451.53,363.63 452.03,363.77 452.54,363.90 453.04,364.03 453.54,364.16 454.04,364.29 454.54,364.42 455.05,364.55 455.55,364.68 456.05,364.81 456.55,364.94 457.06,365.07 457.56,365.20 458.06,365.33 458.56,365.45 459.06,365.58 459.57,365.71 460.07,365.83 460.57,365.96 461.07,366.08 461.57,366.21 462.08,366.34 462.58,366.46 463.08,366.59 463.58,366.71 464.09,366.84 464.59,366.96 465.09,367.08 465.59,367.21 466.09,367.33 466.60,367.46 467.10,367.58 467.60,367.71 468.10,367.83 468.60,367.96 469.11,368.08 469.61,368.21 470.11,368.33 470.61,368.46 471.12,368.58 471.62,368.71 472.12,368.83 472.62,368.96 473.12,369.09 473.63,369.21 474.13,369.34 474.63,369.47 475.13,369.60 475.63,369.73 476.14,369.85 476.64,369.98 477.14,370.11 477.64,370.24 478.15,370.37 478.65,370.50 479.15,370.63 479.65,370.76 480.15,370.89 480.66,371.03 481.16,371.16 481.66,371.29 482.16,371.42 482.66,371.55 483.17,371.69 483.67,371.82 484.17,371.95 484.67,372.09 485.18,372.22 485.68,372.36 486.18,372.49 486.68,372.63 487.18,372.76 487.69,372.90 488.19,373.03 488.69,373.17 489.19,373.31 489.69,373.44 490.20,373.58 490.70,373.72 491.20,373.85 491.70,373.99 492.21,374.13 492.71,374.27 493.21,374.41 493.71,374.55 494.21,374.68 494.72,374.82 495.22,374.96 495.72,375.10 496.22,375.24 496.73,375.38 497.23,375.52 497.73,375.66 498.23,375.80 498.73,375.95 499.24,376.09 499.74,376.23 500.24,376.37 500.74,376.51 501.24,376.65 501.75,376.80 502.25,376.94 502.75,377.08 503.25,377.22 503.76,377.37 504.26,377.51 504.76,377.65 505.26,377.80 505.76,377.94 506.27,378.08 506.77,378.23 507.27,378.37 507.77,378.52 508.27,378.66 508.78,378.81 509.28,378.95 509.78,379.10 510.28,379.24 510.79,379.39 511.29,379.53 511.79,379.68 512.29,379.82 512.79,379.97 513.30,380.12 513.80,380.26 514.30,380.41 514.80,380.55 515.30,380.70 515.81,380.85 516.31,380.99 516.81,381.14 517.31,381.29 517.82,381.43 518.32,381.58 518.82,381.73 519.32,381.88 519.82,382.02 520.33,382.17 520.83,382.32 521.33,382.47 521.83,382.61 522.33,382.76 522.84,382.91 523.34,383.06 523.84,383.21 524.34,383.36 524.85,383.50 525.35,383.65 525.85,383.80 526.35,383.95 526.85,384.10 527.36,384.25 527.86,384.39 528.36,384.54 528.86,384.69 529.36,384.84 529.87,384.99 530.37,385.14 530.87,385.29 531.37,385.44 531.88,385.58 532.38,385.73 532.88,385.88 533.38,386.03 533.88,386.18 534.39,386.33 534.89,386.48 535.39,386.63 535.89,386.78 536.39,386.93 536.90,387.07 537.40,387.22 537.90,387.37 538.40,387.52 538.91,387.67 539.41,387.82 539.91,387.97 540.41,388.12 540.91,388.27 541.42,388.42 541.92,388.56 542.42,388.71 542.92,388.86 543.42,389.01 543.93,389.16 544.43,389.31 544.93,389.46 545.43,389.61 545.94,389.75 546.44,389.90 546.94,390.05 547.44,390.20 547.94,390.35 548.45,390.50 548.95,390.64 549.45,390.79 549.95,390.94 550.45,391.09 550.96,391.24 551.46,391.38 551.96,391.53 552.46,391.68 552.97,391.83 553.47,391.97 553.97,392.12 554.47,392.27 554.97,392.42 555.48,392.56 555.98,392.71 556.48,392.86 556.98,393.00 557.48,393.15 557.99,393.30 558.49,393.44 558.99,393.59 559.49,393.73 560.00,393.88 560.50,394.03 561.00,394.17" fill="none" stroke="#1e459d" stroke-width="2.4" stroke-linecap="butt" stroke-linejoin="round"/>
<polyline points="583.30,153.66 583.70,153.64 584.11,153.60 584.51,153.54 584.92,153.44 585.32,153.32 585.73,153.18 586.13,153.02 586.54,152.84 586.94,152.63 587.35,152.41 587.75,152.18 588.16,151.93 588.56,151.67 588.97,151.40 589.38,151.11 589.78,150.82 590.18,150.52 590.59,150.22 591.00,149.91 591.40,149.60" fill="none" stroke="#8c1a0c" stroke-width="2.4" stroke-linecap="butt" stroke-linejoin="round"/>
<polyline points="595.20,146.81 595.61,146.56 596.01,146.32 596.42,146.09 596.82,145.87 597.23,145.67 597.63,145.48 598.04,145.30 598.44,145.13 598.85,144.98 599.25,144.83 599.66,144.70 600.06,144.59 600.47,144.48 600.87,144.39 601.28,144.31 601.68,144.24 602.09,144.19 602.49,144.14 602.90,144.11" fill="none" stroke="#8c1a0c" stroke-width="2.4" stroke-linecap="butt" stroke-linejoin="round"/>
<polyline points="607.00,144.49 607.42,144.60 607.83,144.73 608.25,144.86 608.67,145.01 609.08,145.17 609.50,145.35 609.92,145.54 610.33,145.74 610.75,145.95 611.17,146.18 611.58,146.42 612.00,146.67 612.42,146.93 612.83,147.21 613.25,147.49 613.67,147.79 614.08,148.09 614.50,148.41" fill="none" stroke="#8c1a0c" stroke-width="2.4" stroke-linecap="butt" stroke-linejoin="round"/>
<polyline points="618.80,152.08 619.21,152.45 619.61,152.83 620.02,153.21 620.42,153.60 620.83,153.98 621.24,154.37 621.64,154.76 622.05,155.15 622.46,155.54 622.86,155.93 623.27,156.32 623.67,156.70 624.08,157.09 624.49,157.47 624.89,157.85 625.30,158.23" fill="none" stroke="#8c1a0c" stroke-width="2.4" stroke-linecap="butt" stroke-linejoin="round"/>
<polyline points="631.10,163.27 631.51,163.60 631.91,163.92 632.32,164.25 632.73,164.57 633.13,164.88 633.54,165.20 633.94,165.51 634.35,165.82 634.76,166.12 635.16,166.42 635.57,166.73 635.98,167.02 636.38,167.32 636.79,167.61 637.19,167.90 637.60,168.19" fill="none" stroke="#8c1a0c" stroke-width="2.4" stroke-linecap="butt" stroke-linejoin="round"/>
<polyline points="643.10,171.83 643.51,172.08 643.91,172.33 644.32,172.58 644.72,172.83 645.13,173.07 645.53,173.31 645.94,173.55 646.34,173.78 646.75,174.02 647.15,174.25 647.56,174.48 647.96,174.71 648.37,174.93 648.77,175.16 649.18,175.38 649.58,175.60 649.99,175.82 650.39,176.04 650.80,176.25" fill="none" stroke="#8c1a0c" stroke-width="2.4" stroke-linecap="butt" stroke-linejoin="round"/>
<polyline points="656.10,178.89 656.51,179.08 656.91,179.27 657.32,179.45 657.72,179.64 658.13,179.82 658.54,180.00 658.94,180.19 659.35,180.36 659.75,180.54 660.16,180.72 660.56,180.89 660.97,181.07 661.38,181.24 661.78,181.41 662.19,181.58 662.59,181.75 663.00,181.91" fill="none" stroke="#8c1a0c" stroke-width="2.4" stroke-linecap="butt" stroke-linejoin="round"/>
<polyline points="583.30,186.35 583.80,186.30 584.30,186.23 584.80,186.12 585.30,185.98 585.80,185.81 586.30,185.61 586.80,185.38 587.30,185.11 587.80,184.82 588.30,184.50 588.80,184.15 589.30,183.76 589.80,183.35 590.30,182.91 590.80,182.44 591.30,181.94 591.80,181.41 592.30,180.86 592.80,180.28 593.30,179.68 593.80,179.07 594.30,178.44 594.80,177.79 595.30,177.14 595.80,176.49 596.30,175.83 596.80,175.17 597.30,174.51 597.80,173.86 598.30,173.22 598.80,172.59 599.30,171.98 599.80,171.39 600.30,170.81 600.80,170.25 601.30,169.72 601.80,169.20 602.30,168.70 602.80,168.23 603.30,167.77 603.80,167.34 604.30,166.92 604.80,166.53 605.30,166.16 605.80,165.82 606.30,165.49 606.80,165.19 607.30,164.91 607.80,164.65 608.30,164.42 608.80,164.21 609.30,164.02 609.80,163.85 610.30,163.70 610.80,163.57 611.30,163.46 611.80,163.37 612.30,163.29 612.80,163.23 613.30,163.19 613.80,163.17 614.30,163.16 614.80,163.16 615.30,163.18 615.80,163.22 616.30,163.26 616.80,163.32 617.30,163.39 617.80,163.48 618.30,163.57 618.80,163.67 619.30,163.79 619.80,163.91 620.30,164.04 620.80,164.18 621.30,164.33 621.80,164.48 622.30,164.64 622.80,164.81 623.30,164.98 623.80,165.15 624.30,165.33 624.80,165.51 625.30,165.70 625.80,165.89 626.30,166.09 626.80,166.29 627.30,166.49 627.80,166.69 628.30,166.90 628.80,167.11 629.30,167.33 629.80,167.54 630.30,167.76 630.80,167.98 631.30,168.21 631.80,168.44 632.30,168.66 632.80,168.89 633.30,169.13 633.80,169.36 634.30,169.60 634.80,169.83 635.30,170.07 635.80,170.31 636.30,170.55 636.80,170.79 637.30,171.03 637.80,171.27 638.30,171.51 638.80,171.76 639.30,172.00 639.80,172.24 640.30,172.48 640.80,172.73 641.30,172.97 641.80,173.21 642.30,173.45 642.80,173.70 643.30,173.94 643.80,174.18 644.30,174.42 644.80,174.66 645.30,174.90 645.80,175.14 646.30,175.37 646.80,175.61 647.30,175.85 647.80,176.08 648.30,176.32 648.80,176.55 649.30,176.78 649.80,177.01 650.30,177.24 650.80,177.46 651.30,177.69 651.80,177.91 652.30,178.13 652.80,178.35 653.30,178.57 653.80,178.79 654.30,179.00 654.80,179.21 655.30,179.42 655.80,179.63 656.30,179.84 656.80,180.04 657.30,180.24 657.80,180.44 658.30,180.63 658.80,180.82 659.30,181.01 659.80,181.20 660.30,181.39 660.80,181.57 661.30,181.75 661.80,181.93 662.30,182.10 662.80,182.28 663.30,182.45 663.80,182.62 664.30,182.78 664.80,182.95 665.30,183.11 665.80,183.27 666.30,183.43 666.80,183.58 667.30,183.73 667.80,183.88 668.30,184.03 668.80,184.18 669.30,184.32 669.80,184.46 670.30,184.60 670.80,184.74 671.30,184.88 671.80,185.01 672.30,185.14 672.80,185.27 673.30,185.40 673.80,185.53 674.30,185.65 674.80,185.77 675.30,185.89 675.80,186.01 676.30,186.12 676.80,186.24 677.30,186.35 677.80,186.46 678.30,186.57 678.80,186.67 679.30,186.78 679.80,186.88 680.30,186.98 680.80,187.08 681.30,187.18 681.80,187.27 682.30,187.37 682.80,187.46 683.30,187.55 683.80,187.64 684.30,187.73 684.80,187.81 685.30,187.90 685.80,187.98 686.30,188.06 686.80,188.14 687.30,188.22 687.80,188.29 688.30,188.37 688.80,188.44 689.30,188.51 689.80,188.58 690.30,188.65 690.80,188.72 691.30,188.78 691.80,188.85 692.30,188.91 692.80,188.97 693.30,189.03 693.80,189.09 694.30,189.15 694.80,189.20 695.30,189.26 695.80,189.31 696.30,189.36 696.80,189.42 697.30,189.46 697.80,189.51 698.30,189.56 698.80,189.61 699.30,189.65 699.80,189.70 700.30,189.74 700.80,189.78 701.30,189.82 701.80,189.86 702.30,189.90 702.80,189.94 703.30,189.97 703.80,190.01 704.30,190.04 704.80,190.08 705.30,190.11 705.80,190.14 706.30,190.17 706.80,190.20 707.30,190.23 707.80,190.26 708.30,190.29 708.80,190.31 709.30,190.34 709.80,190.36 710.30,190.39 710.80,190.41 711.30,190.43 711.80,190.46 712.30,190.48 712.80,190.50 713.30,190.52 713.80,190.54 714.30,190.56 714.80,190.57 715.30,190.59 715.80,190.61 716.30,190.62 716.80,190.64 717.30,190.65 717.80,190.67 718.30,190.68 718.80,190.69 719.30,190.71 719.80,190.72 720.30,190.73 720.80,190.74 721.30,190.75 721.80,190.77 722.30,190.78 722.80,190.79 723.30,190.80 723.80,190.80 724.30,190.81 724.80,190.82 725.30,190.83 725.80,190.84 726.30,190.85 726.80,190.85 727.30,190.86 727.80,190.87 728.30,190.88 728.80,190.88 729.30,190.89 729.80,190.90 730.30,190.90 730.80,190.91 731.30,190.92 731.80,190.92 732.30,190.93 732.80,190.94 733.30,190.94 733.80,190.95 734.30,190.95 734.80,190.96 735.30,190.97 735.80,190.97 736.30,190.98 736.80,190.99 737.30,190.99 737.80,191.00 738.30,191.00 738.80,191.01 739.30,191.02 739.80,191.02 740.30,191.03 740.80,191.03 741.30,191.04 741.80,191.04 742.30,191.05 742.80,191.06 743.30,191.06 743.80,191.07 744.30,191.07 744.80,191.08 745.30,191.08 745.80,191.09 746.30,191.09 746.80,191.10 747.30,191.11 747.80,191.11 748.30,191.12 748.80,191.12 749.30,191.13 749.80,191.13 750.30,191.14 750.80,191.14 751.30,191.15 751.80,191.15 752.30,191.16 752.80,191.16 753.30,191.17 753.80,191.17 754.30,191.18 754.80,191.18 755.30,191.18 755.80,191.19 756.30,191.19 756.80,191.20 757.30,191.20 757.80,191.21 758.30,191.21 758.80,191.22 759.30,191.22 759.80,191.22 760.30,191.23 760.80,191.23 761.30,191.24 761.80,191.24 762.30,191.24 762.80,191.25 763.30,191.25 763.80,191.26 764.30,191.26 764.80,191.26 765.30,191.27 765.80,191.27 766.30,191.27 766.80,191.28 767.30,191.28 767.80,191.28 768.30,191.29 768.80,191.29 769.30,191.29 769.80,191.30 770.30,191.30 770.80,191.30 771.30,191.30 771.80,191.31 772.30,191.31 772.80,191.31 773.30,191.32 773.80,191.32 774.30,191.32 774.80,191.32 775.30,191.33 775.80,191.33 776.30,191.33 776.80,191.33 777.30,191.33 777.80,191.34 778.30,191.34 778.80,191.34 779.30,191.34 779.80,191.34 780.30,191.35 780.80,191.35 781.30,191.35 781.80,191.35 782.30,191.35 782.80,191.35 783.30,191.36 783.80,191.36 784.30,191.36 784.80,191.36 785.30,191.36 785.80,191.36 786.30,191.36 786.80,191.36 787.30,191.36 787.80,191.36 788.30,191.36 788.80,191.36 789.30,191.37 789.80,191.37 790.30,191.37 790.80,191.37 791.30,191.37 791.80,191.37 792.30,191.37 792.80,191.37 793.30,191.37 793.80,191.37 794.30,191.37 794.80,191.37 795.30,191.36 795.80,191.36 796.30,191.36 796.80,191.36 797.30,191.36 797.80,191.36 798.30,191.36 798.80,191.36 799.30,191.36 799.80,191.36 800.30,191.36 800.80,191.35 801.30,191.35 801.80,191.35 802.30,191.35 802.80,191.35 803.30,191.35 803.80,191.34 804.30,191.34 804.80,191.34 805.30,191.34 805.80,191.34 806.30,191.33 806.80,191.33 807.30,191.33 807.80,191.33 808.30,191.32 808.80,191.32 809.30,191.32 809.80,191.31 810.30,191.31 810.80,191.31 811.30,191.31 811.80,191.30 812.30,191.30 812.80,191.30 813.30,191.29" fill="none" stroke="#1e459d" stroke-width="2.4" stroke-linecap="butt" stroke-linejoin="round"/>
<polyline points="583.30,322.42 583.71,322.36 584.13,322.31 584.54,322.25 584.96,322.19 585.38,322.13 585.79,322.07 586.20,322.02 586.62,321.96 587.03,321.90 587.45,321.84 587.87,321.79 588.28,321.73 588.70,321.67 589.11,321.62 589.52,321.56 589.94,321.51 590.36,321.45 590.77,321.40 591.19,321.34 591.60,321.29" fill="none" stroke="#8c1a0c" stroke-width="2.4" stroke-linecap="butt" stroke-linejoin="round"/>
<polyline points="595.30,320.87 595.70,320.83 596.10,320.80 596.50,320.76 596.90,320.72 597.30,320.69 597.70,320.66 598.10,320.63 598.50,320.60 598.90,320.57 599.30,320.54 599.70,320.52 600.10,320.50 600.50,320.48 600.90,320.46 601.30,320.44 601.70,320.43 602.10,320.42 602.50,320.41 602.90,320.40 603.30,320.40 603.70,320.39" fill="none" stroke="#8c1a0c" stroke-width="2.4" stroke-linecap="butt" stroke-linejoin="round"/>
<polyline points="607.20,320.47 607.62,320.49 608.03,320.51 608.45,320.54 608.86,320.56 609.28,320.59 609.69,320.63 610.11,320.66 610.52,320.70 610.94,320.74 611.35,320.78 611.76,320.82 612.18,320.87 612.60,320.91 613.01,320.96 613.42,321.01 613.84,321.07 614.25,321.12 614.67,321.18 615.09,321.24 615.50,321.30" fill="none" stroke="#8c1a0c" stroke-width="2.4" stroke-linecap="butt" stroke-linejoin="round"/>
<polyline points="619.00,321.90 619.41,321.98 619.83,322.06 620.25,322.14 620.66,322.23 621.08,322.31 621.49,322.40 621.90,322.49 622.32,322.58 622.74,322.68 623.15,322.77 623.56,322.87 623.98,322.96 624.39,323.06 624.81,323.16 625.22,323.27 625.64,323.37 626.05,323.48 626.47,323.58 626.88,323.69 627.30,323.80" fill="none" stroke="#8c1a0c" stroke-width="2.4" stroke-linecap="butt" stroke-linejoin="round"/>
<polyline points="631.30,324.92 631.71,325.04 632.13,325.17 632.54,325.29 632.96,325.42 633.38,325.55 633.79,325.68 634.20,325.80 634.62,325.94 635.03,326.07 635.45,326.20 635.87,326.33 636.28,326.47 636.70,326.60 637.11,326.74 637.52,326.88 637.94,327.01 638.36,327.15 638.77,327.29 639.19,327.43 639.60,327.57" fill="none" stroke="#8c1a0c" stroke-width="2.4" stroke-linecap="butt" stroke-linejoin="round"/>
<polyline points="643.20,328.83 643.62,328.98 644.03,329.12 644.45,329.27 644.86,329.42 645.28,329.57 645.69,329.72 646.11,329.87 646.52,330.02 646.94,330.17 647.35,330.33 647.76,330.48 648.18,330.63 648.60,330.78 649.01,330.94 649.42,331.09 649.84,331.25 650.25,331.40 650.67,331.55 651.09,331.71 651.50,331.86" fill="none" stroke="#8c1a0c" stroke-width="2.4" stroke-linecap="butt" stroke-linejoin="round"/>
<polyline points="655.10,333.21 655.51,333.37 655.93,333.52 656.34,333.68 656.75,333.83 657.17,333.98 657.58,334.14 657.99,334.29 658.41,334.45 658.82,334.60 659.23,334.76 659.65,334.91 660.06,335.06 660.47,335.22 660.89,335.37 661.30,335.52" fill="none" stroke="#8c1a0c" stroke-width="2.4" stroke-linecap="butt" stroke-linejoin="round"/>
<polyline points="583.30,340.93 583.80,340.71 584.30,340.44 584.80,340.13 585.30,339.78 585.80,339.40 586.30,338.99 586.80,338.55 587.30,338.09 587.80,337.61 588.30,337.12 588.80,336.61 589.30,336.10 589.80,335.58 590.30,335.05 590.80,334.53 591.30,334.01 591.80,333.49 592.30,332.98 592.80,332.49 593.30,332.01 593.80,331.54 594.30,331.10 594.80,330.67 595.30,330.27 595.80,329.88 596.30,329.50 596.80,329.15 597.30,328.81 597.80,328.48 598.30,328.18 598.80,327.89 599.30,327.61 599.80,327.35 600.30,327.11 600.80,326.88 601.30,326.66 601.80,326.46 602.30,326.27 602.80,326.10 603.30,325.94 603.80,325.79 604.30,325.65 604.80,325.53 605.30,325.42 605.80,325.31 606.30,325.23 606.80,325.15 607.30,325.08 607.80,325.02 608.30,324.97 608.80,324.93 609.30,324.89 609.80,324.87 610.30,324.85 610.80,324.84 611.30,324.84 611.80,324.84 612.30,324.85 612.80,324.86 613.30,324.88 613.80,324.90 614.30,324.93 614.80,324.96 615.30,324.99 615.80,325.03 616.30,325.07 616.80,325.11 617.30,325.16 617.80,325.21 618.30,325.26 618.80,325.31 619.30,325.37 619.80,325.43 620.30,325.49 620.80,325.56 621.30,325.62 621.80,325.69 622.30,325.76 622.80,325.84 623.30,325.92 623.80,325.99 624.30,326.08 624.80,326.16 625.30,326.25 625.80,326.33 626.30,326.42 626.80,326.52 627.30,326.61 627.80,326.71 628.30,326.80 628.80,326.90 629.30,327.01 629.80,327.11 630.30,327.21 630.80,327.32 631.30,327.43 631.80,327.54 632.30,327.65 632.80,327.77 633.30,327.88 633.80,328.00 634.30,328.12 634.80,328.24 635.30,328.36 635.80,328.48 636.30,328.60 636.80,328.73 637.30,328.85 637.80,328.98 638.30,329.11 638.80,329.24 639.30,329.37 639.80,329.50 640.30,329.63 640.80,329.77 641.30,329.90 641.80,330.04 642.30,330.17 642.80,330.31 643.30,330.45 643.80,330.59 644.30,330.73 644.80,330.87 645.30,331.01 645.80,331.15 646.30,331.29 646.80,331.44 647.30,331.58 647.80,331.73 648.30,331.88 648.80,332.02 649.30,332.17 649.80,332.32 650.30,332.47 650.80,332.62 651.30,332.77 651.80,332.92 652.30,333.07 652.80,333.22 653.30,333.37 653.80,333.52 654.30,333.68 654.80,333.83 655.30,333.98 655.80,334.14 656.30,334.29 656.80,334.45 657.30,334.60 657.80,334.76 658.30,334.91 658.80,335.07 659.30,335.22 659.80,335.38 660.30,335.54 660.80,335.69 661.30,335.85 661.80,336.01 662.30,336.16 662.80,336.32 663.30,336.48 663.80,336.63 664.30,336.79 664.80,336.95 665.30,337.10 665.80,337.26 666.30,337.42 666.80,337.57 667.30,337.73 667.80,337.89 668.30,338.04 668.80,338.20 669.30,338.35 669.80,338.51 670.30,338.67 670.80,338.82 671.30,338.98 671.80,339.14 672.30,339.30 672.80,339.45 673.30,339.61 673.80,339.77 674.30,339.93 674.80,340.09 675.30,340.25 675.80,340.41 676.30,340.57 676.80,340.73 677.30,340.89 677.80,341.05 678.30,341.21 678.80,341.37 679.30,341.54 679.80,341.70 680.30,341.86 680.80,342.03 681.30,342.19 681.80,342.36 682.30,342.53 682.80,342.70 683.30,342.86 683.80,343.03 684.30,343.20 684.80,343.37 685.30,343.55 685.80,343.72 686.30,343.89 686.80,344.07 687.30,344.24 687.80,344.42 688.30,344.60 688.80,344.77 689.30,344.95 689.80,345.14 690.30,345.32 690.80,345.50 691.30,345.68 691.80,345.87 692.30,346.06 692.80,346.24 693.30,346.43 693.80,346.62 694.30,346.81 694.80,347.01 695.30,347.20 695.80,347.40 696.30,347.59 696.80,347.79 697.30,347.99 697.80,348.19 698.30,348.39 698.80,348.59 699.30,348.79 699.80,349.00 700.30,349.20 700.80,349.41 701.30,349.62 701.80,349.82 702.30,350.03 702.80,350.24 703.30,350.45 703.80,350.66 704.30,350.87 704.80,351.08 705.30,351.29 705.80,351.51 706.30,351.72 706.80,351.93 707.30,352.15 707.80,352.36 708.30,352.58 708.80,352.79 709.30,353.01 709.80,353.23 710.30,353.44 710.80,353.66 711.30,353.88 711.80,354.09 712.30,354.31 712.80,354.53 713.30,354.75 713.80,354.97 714.30,355.18 714.80,355.40 715.30,355.62 715.80,355.84 716.30,356.05 716.80,356.27 717.30,356.49 717.80,356.71 718.30,356.92 718.80,357.14 719.30,357.36 719.80,357.57 720.30,357.79 720.80,358.01 721.30,358.22 721.80,358.44 722.30,358.65 722.80,358.87 723.30,359.08 723.80,359.29 724.30,359.51 724.80,359.72 725.30,359.93 725.80,360.14 726.30,360.35 726.80,360.57 727.30,360.78 727.80,360.99 728.30,361.20 728.80,361.41 729.30,361.62 729.80,361.83 730.30,362.04 730.80,362.25 731.30,362.46 731.80,362.67 732.30,362.88 732.80,363.09 733.30,363.30 733.80,363.51 734.30,363.72 734.80,363.93 735.30,364.14 735.80,364.34 736.30,364.55 736.80,364.76 737.30,364.97 737.80,365.18 738.30,365.39 738.80,365.60 739.30,365.81 739.80,366.02 740.30,366.23 740.80,366.44 741.30,366.65 741.80,366.86 742.30,367.07 742.80,367.28 743.30,367.49 743.80,367.70 744.30,367.91 744.80,368.13 745.30,368.34 745.80,368.55 746.30,368.76 746.80,368.98 747.30,369.19 747.80,369.40 748.30,369.62 748.80,369.83 749.30,370.05 749.80,370.26 750.30,370.48 750.80,370.69 751.30,370.91 751.80,371.13 752.30,371.34 752.80,371.56 753.30,371.78 753.80,372.00 754.30,372.22 754.80,372.44 755.30,372.66 755.80,372.88 756.30,373.10 756.80,373.32 757.30,373.54 757.80,373.76 758.30,373.99 758.80,374.21 759.30,374.43 759.80,374.66 760.30,374.88 760.80,375.11 761.30,375.33 761.80,375.56 762.30,375.78 762.80,376.01 763.30,376.23 763.80,376.46 764.30,376.69 764.80,376.91 765.30,377.14 765.80,377.37 766.30,377.59 766.80,377.82 767.30,378.05 767.80,378.28 768.30,378.51 768.80,378.73 769.30,378.96 769.80,379.19 770.30,379.42 770.80,379.65 771.30,379.88 771.80,380.11 772.30,380.33 772.80,380.56 773.30,380.79 773.80,381.02 774.30,381.25 774.80,381.48 775.30,381.71 775.80,381.94 776.30,382.17 776.80,382.40 777.30,382.62 777.80,382.85 778.30,383.08 778.80,383.31 779.30,383.54 779.80,383.77 780.30,384.00 780.80,384.22 781.30,384.45 781.80,384.68 782.30,384.91 782.80,385.13 783.30,385.36 783.80,385.59 784.30,385.82 784.80,386.04 785.30,386.27 785.80,386.50 786.30,386.72 786.80,386.95 787.30,387.17 787.80,387.40 788.30,387.62 788.80,387.85 789.30,388.07 789.80,388.29 790.30,388.52 790.80,388.74 791.30,388.96 791.80,389.19 792.30,389.41 792.80,389.63 793.30,389.85 793.80,390.07 794.30,390.29 794.80,390.51 795.30,390.73 795.80,390.95 796.30,391.17 796.80,391.39 797.30,391.60 797.80,391.82 798.30,392.04 798.80,392.25 799.30,392.47 799.80,392.68 800.30,392.90 800.80,393.11 801.30,393.32 801.80,393.53 802.30,393.74 802.80,393.96 803.30,394.17 803.80,394.38 804.30,394.58 804.80,394.79 805.30,395.00 805.80,395.21 806.30,395.41 806.80,395.62 807.30,395.82 807.80,396.03 808.30,396.23 808.80,396.43 809.30,396.63 809.80,396.83 810.30,397.03 810.80,397.23 811.30,397.43 811.80,397.63 812.30,397.82 812.80,398.02 813.30,398.22" fill="none" stroke="#1e459d" stroke-width="2.4" stroke-linecap="butt" stroke-linejoin="round"/>
</g>
<g id="frames">
<rect x="79.40" y="20.60" width="229.70" height="227.75" fill="none" stroke="#000" stroke-width="1.4"/>
<path d="M79.40,248.35v-3.6M79.40,20.60v3.6M102.37,248.35v-1.8M102.37,20.60v1.8M125.34,248.35v-1.8M125.34,20.60v1.8M148.31,248.35v-1.8M148.31,20.60v1.8M171.28,248.35v-1.8M171.28,20.60v1.8M194.25,248.35v-3.6M194.25,20.60v3.6M217.22,248.35v-1.8M217.22,20.60v1.8M240.19,248.35v-1.8M240.19,20.60v1.8M263.16,248.35v-1.8M263.16,20.60v1.8M286.13,248.35v-1.8M286.13,20.60v1.8M309.10,248.35v-3.6M309.10,20.60v3.6M79.40,20.60h3.6M309.10,20.60h-3.6M79.40,31.99h1.8M309.10,31.99h-1.8M79.40,43.38h1.8M309.10,43.38h-1.8M79.40,54.76h1.8M309.10,54.76h-1.8M79.40,66.15h1.8M309.10,66.15h-1.8M79.40,77.54h3.6M309.10,77.54h-3.6M79.40,88.93h1.8M309.10,88.93h-1.8M79.40,100.31h1.8M309.10,100.31h-1.8M79.40,111.70h1.8M309.10,111.70h-1.8M79.40,123.09h1.8M309.10,123.09h-1.8M79.40,134.47h3.6M309.10,134.47h-3.6M79.40,145.86h1.8M309.10,145.86h-1.8M79.40,157.25h1.8M309.10,157.25h-1.8M79.40,168.64h1.8M309.10,168.64h-1.8M79.40,180.03h1.8M309.10,180.03h-1.8M79.40,191.41h3.6M309.10,191.41h-3.6M79.40,202.80h1.8M309.10,202.80h-1.8M79.40,214.19h1.8M309.10,214.19h-1.8M79.40,225.57h1.8M309.10,225.57h-1.8M79.40,236.96h1.8M309.10,236.96h-1.8M79.40,248.35h3.6M309.10,248.35h-3.6" stroke="#222" stroke-width="0.5" fill="none"/>
<rect x="79.40" y="276.80" width="229.70" height="227.75" fill="none" stroke="#000" stroke-width="1.4"/>
<path d="M79.40,504.55v-3.6M79.40,276.80v3.6M102.37,504.55v-1.8M102.37,276.80v1.8M125.34,504.55v-1.8M125.34,276.80v1.8M148.31,504.55v-1.8M148.31,276.80v1.8M171.28,504.55v-1.8M171.28,276.80v1.8M194.25,504.55v-3.6M194.25,276.80v3.6M217.22,504.55v-1.8M217.22,276.80v1.8M240.19,504.55v-1.8M240.19,276.80v1.8M263.16,504.55v-1.8M263.16,276.80v1.8M286.13,504.55v-1.8M286.13,276.80v1.8M309.10,504.55v-3.6M309.10,276.80v3.6M79.40,276.80h3.6M309.10,276.80h-3.6M79.40,285.91h1.8M309.10,285.91h-1.8M79.40,295.02h1.8M309.10,295.02h-1.8M79.40,304.13h1.8M309.10,304.13h-1.8M79.40,313.24h1.8M309.10,313.24h-1.8M79.40,322.35h3.6M309.10,322.35h-3.6M79.40,331.46h1.8M309.10,331.46h-1.8M79.40,340.57h1.8M309.10,340.57h-1.8M79.40,349.68h1.8M309.10,349.68h-1.8M79.40,358.79h1.8M309.10,358.79h-1.8M79.40,367.90h3.6M309.10,367.90h-3.6M79.40,377.01h1.8M309.10,377.01h-1.8M79.40,386.12h1.8M309.10,386.12h-1.8M79.40,395.23h1.8M309.10,395.23h-1.8M79.40,404.34h1.8M309.10,404.34h-1.8M79.40,413.45h3.6M309.10,413.45h-3.6M79.40,422.56h1.8M309.10,422.56h-1.8M79.40,431.67h1.8M309.10,431.67h-1.8M79.40,440.78h1.8M309.10,440.78h-1.8M79.40,449.89h1.8M309.10,449.89h-1.8M79.40,459.00h3.6M309.10,459.00h-3.6M79.40,468.11h1.8M309.10,468.11h-1.8M79.40,477.22h1.8M309.10,477.22h-1.8M79.40,486.33h1.8M309.10,486.33h-1.8M79.40,495.44h1.8M309.10,495.44h-1.8M79.40,504.55h3.6M309.10,504.55h-3.6" stroke="#222" stroke-width="0.5" fill="none"/>
<rect x="331.20" y="20.60" width="229.70" height="227.75" fill="none" stroke="#000" stroke-width="1.4"/>
<path d="M331.20,248.35v-3.6M331.20,20.60v3.6M354.17,248.35v-1.8M354.17,20.60v1.8M377.14,248.35v-1.8M377.14,20.60v1.8M400.11,248.35v-1.8M400.11,20.60v1.8M423.08,248.35v-1.8M423.08,20.60v1.8M446.05,248.35v-3.6M446.05,20.60v3.6M469.02,248.35v-1.8M469.02,20.60v1.8M491.99,248.35v-1.8M491.99,20.60v1.8M514.96,248.35v-1.8M514.96,20.60v1.8M537.93,248.35v-1.8M537.93,20.60v1.8M560.90,248.35v-3.6M560.90,20.60v3.6M331.20,20.60h3.6M560.90,20.60h-3.6M331.20,31.99h1.8M560.90,31.99h-1.8M331.20,43.38h1.8M560.90,43.38h-1.8M331.20,54.76h1.8M560.90,54.76h-1.8M331.20,66.15h1.8M560.90,66.15h-1.8M331.20,77.54h3.6M560.90,77.54h-3.6M331.20,88.93h1.8M560.90,88.93h-1.8M331.20,100.31h1.8M560.90,100.31h-1.8M331.20,111.70h1.8M560.90,111.70h-1.8M331.20,123.09h1.8M560.90,123.09h-1.8M331.20,134.47h3.6M560.90,134.47h-3.6M331.20,145.86h1.8M560.90,145.86h-1.8M331.20,157.25h1.8M560.90,157.25h-1.8M331.20,168.64h1.8M560.90,168.64h-1.8M331.20,180.03h1.8M560.90,180.03h-1.8M331.20,191.41h3.6M560.90,191.41h-3.6M331.20,202.80h1.8M560.90,202.80h-1.8M331.20,214.19h1.8M560.90,214.19h-1.8M331.20,225.57h1.8M560.90,225.57h-1.8M331.20,236.96h1.8M560.90,236.96h-1.8M331.20,248.35h3.6M560.90,248.35h-3.6" stroke="#222" stroke-width="0.5" fill="none"/>
<rect x="331.20" y="276.80" width="229.70" height="227.75" fill="none" stroke="#000" stroke-width="1.4"/>
<path d="M331.20,504.55v-3.6M331.20,276.80v3.6M354.17,504.55v-1.8M354.17,276.80v1.8M377.14,504.55v-1.8M377.14,276.80v1.8M400.11,504.55v-1.8M400.11,276.80v1.8M423.08,504.55v-1.8M423.08,276.80v1.8M446.05,504.55v-3.6M446.05,276.80v3.6M469.02,504.55v-1.8M469.02,276.80v1.8M491.99,504.55v-1.8M491.99,276.80v1.8M514.96,504.55v-1.8M514.96,276.80v1.8M537.93,504.55v-1.8M537.93,276.80v1.8M560.90,504.55v-3.6M560.90,276.80v3.6M331.20,276.80h3.6M560.90,276.80h-3.6M331.20,285.91h1.8M560.90,285.91h-1.8M331.20,295.02h1.8M560.90,295.02h-1.8M331.20,304.13h1.8M560.90,304.13h-1.8M331.20,313.24h1.8M560.90,313.24h-1.8M331.20,322.35h3.6M560.90,322.35h-3.6M331.20,331.46h1.8M560.90,331.46h-1.8M331.20,340.57h1.8M560.90,340.57h-1.8M331.20,349.68h1.8M560.90,349.68h-1.8M331.20,358.79h1.8M560.90,358.79h-1.8M331.20,367.90h3.6M560.90,367.90h-3.6M331.20,377.01h1.8M560.90,377.01h-1.8M331.20,386.12h1.8M560.90,386.12h-1.8M331.20,395.23h1.8M560.90,395.23h-1.8M331.20,404.34h1.8M560.90,404.34h-1.8M331.20,413.45h3.6M560.90,413.45h-3.6M331.20,422.56h1.8M560.90,422.56h-1.8M331.20,431.67h1.8M560.90,431.67h-1.8M331.20,440.78h1.8M560.90,440.78h-1.8M331.20,449.89h1.8M560.90,449.89h-1.8M331.20,459.00h3.6M560.90,459.00h-3.6M331.20,468.11h1.8M560.90,468.11h-1.8M331.20,477.22h1.8M560.90,477.22h-1.8M331.20,486.33h1.8M560.90,486.33h-1.8M331.20,495.44h1.8M560.90,495.44h-1.8M331.20,504.55h3.6M560.90,504.55h-3.6" stroke="#222" stroke-width="0.5" fill="none"/>
<rect x="583.30" y="20.60" width="229.70" height="227.75" fill="none" stroke="#000" stroke-width="1.4"/>
<path d="M583.30,248.35v-3.6M583.30,20.60v3.6M606.27,248.35v-1.8M606.27,20.60v1.8M629.24,248.35v-1.8M629.24,20.60v1.8M652.21,248.35v-1.8M652.21,20.60v1.8M675.18,248.35v-1.8M675.18,20.60v1.8M698.15,248.35v-3.6M698.15,20.60v3.6M721.12,248.35v-1.8M721.12,20.60v1.8M744.09,248.35v-1.8M744.09,20.60v1.8M767.06,248.35v-1.8M767.06,20.60v1.8M790.03,248.35v-1.8M790.03,20.60v1.8M813.00,248.35v-3.6M813.00,20.60v3.6M583.30,20.60h3.6M813.00,20.60h-3.6M583.30,31.99h1.8M813.00,31.99h-1.8M583.30,43.38h1.8M813.00,43.38h-1.8M583.30,54.76h1.8M813.00,54.76h-1.8M583.30,66.15h1.8M813.00,66.15h-1.8M583.30,77.54h3.6M813.00,77.54h-3.6M583.30,88.93h1.8M813.00,88.93h-1.8M583.30,100.31h1.8M813.00,100.31h-1.8M583.30,111.70h1.8M813.00,111.70h-1.8M583.30,123.09h1.8M813.00,123.09h-1.8M583.30,134.47h3.6M813.00,134.47h-3.6M583.30,145.86h1.8M813.00,145.86h-1.8M583.30,157.25h1.8M813.00,157.25h-1.8M583.30,168.64h1.8M813.00,168.64h-1.8M583.30,180.03h1.8M813.00,180.03h-1.8M583.30,191.41h3.6M813.00,191.41h-3.6M583.30,202.80h1.8M813.00,202.80h-1.8M583.30,214.19h1.8M813.00,214.19h-1.8M583.30,225.57h1.8M813.00,225.57h-1.8M583.30,236.96h1.8M813.00,236.96h-1.8M583.30,248.35h3.6M813.00,248.35h-3.6" stroke="#222" stroke-width="0.5" fill="none"/>
<rect x="583.30" y="276.80" width="229.70" height="227.75" fill="none" stroke="#000" stroke-width="1.4"/>
<path d="M583.30,504.55v-3.6M583.30,276.80v3.6M606.27,504.55v-1.8M606.27,276.80v1.8M629.24,504.55v-1.8M629.24,276.80v1.8M652.21,504.55v-1.8M652.21,276.80v1.8M675.18,504.55v-1.8M675.18,276.80v1.8M698.15,504.55v-3.6M698.15,276.80v3.6M721.12,504.55v-1.8M721.12,276.80v1.8M744.09,504.55v-1.8M744.09,276.80v1.8M767.06,504.55v-1.8M767.06,276.80v1.8M790.03,504.55v-1.8M790.03,276.80v1.8M813.00,504.55v-3.6M813.00,276.80v3.6M583.30,276.80h3.6M813.00,276.80h-3.6M583.30,285.91h1.8M813.00,285.91h-1.8M583.30,295.02h1.8M813.00,295.02h-1.8M583.30,304.13h1.8M813.00,304.13h-1.8M583.30,313.24h1.8M813.00,313.24h-1.8M583.30,322.35h3.6M813.00,322.35h-3.6M583.30,331.46h1.8M813.00,331.46h-1.8M583.30,340.57h1.8M813.00,340.57h-1.8M583.30,349.68h1.8M813.00,349.68h-1.8M583.30,358.79h1.8M813.00,358.79h-1.8M583.30,367.90h3.6M813.00,367.90h-3.6M583.30,377.01h1.8M813.00,377.01h-1.8M583.30,386.12h1.8M813.00,386.12h-1.8M583.30,395.23h1.8M813.00,395.23h-1.8M583.30,404.34h1.8M813.00,404.34h-1.8M583.30,413.45h3.6M813.00,413.45h-3.6M583.30,422.56h1.8M813.00,422.56h-1.8M583.30,431.67h1.8M813.00,431.67h-1.8M583.30,440.78h1.8M813.00,440.78h-1.8M583.30,449.89h1.8M813.00,449.89h-1.8M583.30,459.00h3.6M813.00,459.00h-3.6M583.30,468.11h1.8M813.00,468.11h-1.8M583.30,477.22h1.8M813.00,477.22h-1.8M583.30,486.33h1.8M813.00,486.33h-1.8M583.30,495.44h1.8M813.00,495.44h-1.8M583.30,504.55h3.6M813.00,504.55h-3.6" stroke="#222" stroke-width="0.5" fill="none"/>
</g>
<g id="text">
<text x="78.80" y="15.30" font-size="18" text-anchor="start" >(a)</text>
<text x="297.60" y="49.20" font-size="18" text-anchor="end" >EUR/USD</text>
<path d="M186.00,209.50h9.25M208.70,209.50h9.25" stroke="#8c1a0c" stroke-width="2.3" fill="none"/>
<path d="M186.00,233.00h36.3" stroke="#1e459d" stroke-width="2.3" fill="none"/>
<text x="233.00" y="215.40" font-size="18" text-anchor="start" >w/o CV</text>
<text x="233.00" y="238.50" font-size="18" text-anchor="start" >w CV</text>
<text x="78.80" y="270.30" font-size="18" text-anchor="start" >(b)</text>
<text x="297.60" y="305.40" font-size="18" text-anchor="end" >EUR/USD</text>
<path d="M186.00,466.00h9.25M208.70,466.00h9.25" stroke="#8c1a0c" stroke-width="2.3" fill="none"/>
<path d="M186.00,489.50h36.3" stroke="#1e459d" stroke-width="2.3" fill="none"/>
<text x="233.00" y="471.60" font-size="18" text-anchor="start" >w/o CV</text>
<text x="233.00" y="494.70" font-size="18" text-anchor="start" >w CV</text>
<text x="78.90" y="526.45" font-size="18" text-anchor="start" >0</text>
<text x="194.25" y="526.45" font-size="18" text-anchor="middle" >50</text>
<path d="M285.36,526.45L283.60,526.45L283.60,517.32L280.86,517.32L280.86,516.15C282.72,516.05 284.03,515.43 284.36,513.58L285.36,513.58Z" fill="#000"/>
<text x="289.13" y="526.45" font-size="18">00</text>
<path fill-rule="evenodd" d="M190.00,543.9a4.25,4.95 0 1,0 8.5,0a4.25,4.95 0 1,0 -8.5,0zM191.65,543.9a2.6,4.2 0 1,1 5.2,0a2.6,4.2 0 1,1 -5.2,0z" fill="#000"/>
<path d="M194.25,536.1V552.1" stroke="#333" stroke-width="0.8"/>
<text x="331.00" y="15.30" font-size="18" text-anchor="start" >(c)</text>
<text x="549.40" y="49.20" font-size="18" text-anchor="end" >EUR/GBP</text>
<path d="M438.00,209.50h9.25M460.70,209.50h9.25" stroke="#8c1a0c" stroke-width="2.3" fill="none"/>
<path d="M438.00,233.00h36.3" stroke="#1e459d" stroke-width="2.3" fill="none"/>
<text x="485.00" y="215.40" font-size="18" text-anchor="start" >w/o CV</text>
<text x="485.00" y="238.50" font-size="18" text-anchor="start" >w CV</text>
<text x="331.00" y="270.30" font-size="18" text-anchor="start" >(d)</text>
<text x="549.40" y="305.40" font-size="18" text-anchor="end" >EUR/GBP</text>
<path d="M438.00,466.00h9.25M460.70,466.00h9.25" stroke="#8c1a0c" stroke-width="2.3" fill="none"/>
<path d="M438.00,489.50h36.3" stroke="#1e459d" stroke-width="2.3" fill="none"/>
<text x="485.00" y="471.60" font-size="18" text-anchor="start" >w/o CV</text>
<text x="485.00" y="494.70" font-size="18" text-anchor="start" >w CV</text>
<text x="330.70" y="526.45" font-size="18" text-anchor="start" >0</text>
<text x="446.05" y="526.45" font-size="18" text-anchor="middle" >50</text>
<path d="M537.16,526.45L535.40,526.45L535.40,517.32L532.66,517.32L532.66,516.15C534.52,516.05 535.83,515.43 536.16,513.58L537.16,513.58Z" fill="#000"/>
<text x="540.93" y="526.45" font-size="18">00</text>
<path fill-rule="evenodd" d="M441.80,543.9a4.25,4.95 0 1,0 8.5,0a4.25,4.95 0 1,0 -8.5,0zM443.45,543.9a2.6,4.2 0 1,1 5.2,0a2.6,4.2 0 1,1 -5.2,0z" fill="#000"/>
<path d="M446.05,536.1V552.1" stroke="#333" stroke-width="0.8"/>
<text x="583.40" y="15.30" font-size="18" text-anchor="start" >(e)</text>
<text x="801.50" y="49.20" font-size="18" text-anchor="end" >EUR/JPY</text>
<path d="M690.30,209.50h9.25M713.00,209.50h9.25" stroke="#8c1a0c" stroke-width="2.3" fill="none"/>
<path d="M690.30,233.00h36.3" stroke="#1e459d" stroke-width="2.3" fill="none"/>
<text x="737.30" y="215.40" font-size="18" text-anchor="start" >w/o CV</text>
<text x="737.30" y="238.50" font-size="18" text-anchor="start" >w CV</text>
<text x="583.40" y="270.30" font-size="18" text-anchor="start" >(f)</text>
<text x="801.50" y="305.40" font-size="18" text-anchor="end" >EUR/JPY</text>
<path d="M690.30,466.00h9.25M713.00,466.00h9.25" stroke="#8c1a0c" stroke-width="2.3" fill="none"/>
<path d="M690.30,489.50h36.3" stroke="#1e459d" stroke-width="2.3" fill="none"/>
<text x="737.30" y="471.60" font-size="18" text-anchor="start" >w/o CV</text>
<text x="737.30" y="494.70" font-size="18" text-anchor="start" >w CV</text>
<text x="582.80" y="526.45" font-size="18" text-anchor="start" >0</text>
<text x="698.15" y="526.45" font-size="18" text-anchor="middle" >50</text>
<path d="M789.26,526.45L787.50,526.45L787.50,517.32L784.76,517.32L784.76,516.15C786.62,516.05 787.93,515.43 788.26,513.58L789.26,513.58Z" fill="#000"/>
<text x="793.03" y="526.45" font-size="18">00</text>
<path fill-rule="evenodd" d="M693.90,543.9a4.25,4.95 0 1,0 8.5,0a4.25,4.95 0 1,0 -8.5,0zM695.55,543.9a2.6,4.2 0 1,1 5.2,0a2.6,4.2 0 1,1 -5.2,0z" fill="#000"/>
<path d="M698.15,536.1V552.1" stroke="#333" stroke-width="0.8"/>
<text x="68.10" y="26.95" font-size="18" text-anchor="end" >0.03</text>
<text x="68.10" y="83.82" font-size="18" text-anchor="end" >0.02</text>
<text x="33.07" y="140.70" font-size="18">0.0</text>
<path d="M64.34,140.70L62.57,140.70L62.57,131.57L59.84,131.57L59.84,130.40C61.69,130.30 63.00,129.68 63.33,127.83L64.34,127.83Z" fill="#000"/>
<text x="68.10" y="197.57" font-size="18" text-anchor="end" >0</text>
<rect x="23.06" y="249.45" width="9.00" height="1.26" fill="#000"/>
<text x="33.07" y="254.45" font-size="18">0.0</text>
<path d="M64.34,254.45L62.57,254.45L62.57,245.32L59.84,245.32L59.84,244.15C61.69,244.05 63.00,243.43 63.33,241.58L64.34,241.58Z" fill="#000"/>
<text x="68.10" y="283.15" font-size="18" text-anchor="end" >0</text>
<rect x="48.08" y="323.65" width="9.00" height="1.26" fill="#000"/>
<text x="58.09" y="328.65" font-size="18">5</text>
<rect x="38.07" y="369.15" width="9.00" height="1.26" fill="#000"/>
<path d="M54.32,374.15L52.56,374.15L52.56,365.02L49.82,365.02L49.82,363.85C51.68,363.75 52.99,363.13 53.32,361.28L54.32,361.28Z" fill="#000"/>
<text x="58.09" y="374.15" font-size="18">0</text>
<rect x="38.07" y="414.65" width="9.00" height="1.26" fill="#000"/>
<path d="M54.32,419.65L52.56,419.65L52.56,410.52L49.82,410.52L49.82,409.35C51.68,409.25 52.99,408.63 53.32,406.78L54.32,406.78Z" fill="#000"/>
<text x="58.09" y="419.65" font-size="18">5</text>
<rect x="38.07" y="460.15" width="9.00" height="1.26" fill="#000"/>
<text x="48.08" y="465.15" font-size="18">20</text>
<rect x="38.07" y="505.65" width="9.00" height="1.26" fill="#000"/>
<text x="48.08" y="510.65" font-size="18">25</text>
<g transform="translate(20.80,134.30) rotate(-90)"><text x="0" y="0" font-size="18">I</text><path d="M10.09,5.50L8.74,5.50L8.74,-1.50L6.64,-1.50L6.64,-2.39C8.06,-2.48 9.07,-2.95 9.32,-4.37L10.09,-4.37Z" fill="#000"/></g>
<g transform="translate(19.90,414.40) rotate(-90)"><text x="0" y="0" font-size="18">ln(|I</text><path d="M34.77,5.50L33.42,5.50L33.42,-1.50L31.32,-1.50L31.32,-2.39C32.74,-2.48 33.75,-2.95 34.00,-4.37L34.77,-4.37Z" fill="#000"/><text x="37.36" y="0" font-size="18">|)</text></g>
</g>
</svg>
</body></html>
